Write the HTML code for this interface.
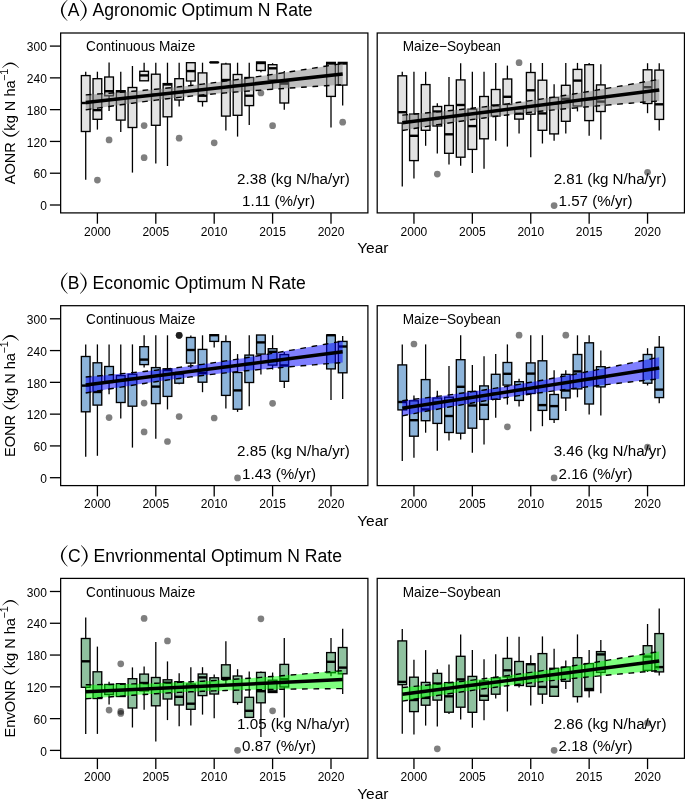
<!DOCTYPE html>
<html><head><meta charset="utf-8"><style>
html,body{margin:0;padding:0;background:#fff;}
svg{display:block;will-change:transform;}
text{font-family:"Liberation Sans", sans-serif;fill:#000;}
</style></head><body>
<svg width="685" height="799" viewBox="0 0 685 799">
<rect width="685" height="799" fill="#fff"/>
<path d="M67.3,-0.2 Q54.5,10.45 67.3,21.1 L67.65,20.9 Q57.55,10.45 67.65,0 Z" fill="#000"/>
<path d="M80.3,-0.2 Q93.1,10.45 80.3,21.1 L79.95,20.9 Q90.05,10.45 79.95,0 Z" fill="#000"/>
<text x="73.7" y="16" font-size="17.5" text-anchor="middle">A</text>
<text x="92.6" y="16" font-size="17.6">Agronomic Optimum N Rate</text>
<g transform="translate(15.4,184.32) rotate(-90)">
<text x="0" y="0" font-size="14.6">AONR</text>
<path d="M53.44,-13.4 Q41.64,-4.65 53.44,4.1 L53.79,3.9 Q44.39,-4.65 53.79,-13.2 Z" fill="#000"/>
<text x="53.69" y="0" font-size="14.6">kg N ha</text>
<text x="103.44" y="-7.4" font-size="10.7">−1</text>
<path d="M116.74,-13.1 Q127.14,-4.85 116.74,3.4 L116.39,3.2 Q124.39,-4.85 116.39,-12.9 Z" fill="#000"/>
</g>
<line x1="49.9" y1="205" x2="60.65" y2="205" stroke="#000" stroke-width="1.3"/>
<text x="46.9" y="210.2" font-size="12" text-anchor="end">0</text>
<line x1="49.9" y1="173.22" x2="60.65" y2="173.22" stroke="#000" stroke-width="1.3"/>
<text x="46.9" y="178.42" font-size="12" text-anchor="end">60</text>
<line x1="49.9" y1="141.44" x2="60.65" y2="141.44" stroke="#000" stroke-width="1.3"/>
<text x="46.9" y="146.64" font-size="12" text-anchor="end">120</text>
<line x1="49.9" y1="109.65" x2="60.65" y2="109.65" stroke="#000" stroke-width="1.3"/>
<text x="46.9" y="114.85" font-size="12" text-anchor="end">180</text>
<line x1="49.9" y1="77.87" x2="60.65" y2="77.87" stroke="#000" stroke-width="1.3"/>
<text x="46.9" y="83.07" font-size="12" text-anchor="end">240</text>
<line x1="49.9" y1="46.09" x2="60.65" y2="46.09" stroke="#000" stroke-width="1.3"/>
<text x="46.9" y="51.29" font-size="12" text-anchor="end">300</text>
<text x="372.8" y="253.4" font-size="15.5" text-anchor="middle">Year</text>
<line x1="97.4" y1="212.9" x2="97.4" y2="223.7" stroke="#000" stroke-width="1.3"/>
<text x="97.4" y="235.5" font-size="12" text-anchor="middle">2000</text>
<line x1="155.8" y1="212.9" x2="155.8" y2="223.7" stroke="#000" stroke-width="1.3"/>
<text x="155.8" y="235.5" font-size="12" text-anchor="middle">2005</text>
<line x1="214.2" y1="212.9" x2="214.2" y2="223.7" stroke="#000" stroke-width="1.3"/>
<text x="214.2" y="235.5" font-size="12" text-anchor="middle">2010</text>
<line x1="272.6" y1="212.9" x2="272.6" y2="223.7" stroke="#000" stroke-width="1.3"/>
<text x="272.6" y="235.5" font-size="12" text-anchor="middle">2015</text>
<line x1="331" y1="212.9" x2="331" y2="223.7" stroke="#000" stroke-width="1.3"/>
<text x="331" y="235.5" font-size="12" text-anchor="middle">2020</text>
<text transform="translate(86.1,51.2) scale(1,1.025)" font-size="13.65">Continuous Maize</text>
<line x1="85.72" y1="71.7" x2="85.72" y2="75.6" stroke="#000" stroke-width="1.3"/>
<line x1="85.72" y1="131.5" x2="85.72" y2="179.7" stroke="#000" stroke-width="1.3"/>
<rect x="81.37" y="75.6" width="8.7" height="55.9" fill="#e3e3e3" stroke="#000" stroke-width="1.35"/>
<line x1="81.37" y1="103" x2="90.07" y2="103" stroke="#000" stroke-width="2.4"/>
<line x1="97.4" y1="71.7" x2="97.4" y2="78.7" stroke="#000" stroke-width="1.3"/>
<line x1="97.4" y1="119.3" x2="97.4" y2="129.6" stroke="#000" stroke-width="1.3"/>
<rect x="93.05" y="78.7" width="8.7" height="40.6" fill="#e3e3e3" stroke="#000" stroke-width="1.35"/>
<line x1="93.05" y1="110.1" x2="101.75" y2="110.1" stroke="#000" stroke-width="2.4"/>
<circle cx="97.4" cy="180.1" r="3.35" fill="#000" fill-opacity="0.5"/>
<line x1="109.08" y1="62.6" x2="109.08" y2="77" stroke="#000" stroke-width="1.3"/>
<line x1="109.08" y1="95.8" x2="109.08" y2="111" stroke="#000" stroke-width="1.3"/>
<rect x="104.73" y="77" width="8.7" height="18.8" fill="#e3e3e3" stroke="#000" stroke-width="1.35"/>
<line x1="104.73" y1="91.2" x2="113.43" y2="91.2" stroke="#000" stroke-width="2.4"/>
<circle cx="109.08" cy="139.9" r="3.35" fill="#000" fill-opacity="0.5"/>
<line x1="120.76" y1="71.8" x2="120.76" y2="90.7" stroke="#000" stroke-width="1.3"/>
<line x1="120.76" y1="120.1" x2="120.76" y2="132.1" stroke="#000" stroke-width="1.3"/>
<rect x="116.41" y="90.7" width="8.7" height="29.4" fill="#e3e3e3" stroke="#000" stroke-width="1.35"/>
<line x1="116.41" y1="91.5" x2="125.11" y2="91.5" stroke="#000" stroke-width="2.4"/>
<line x1="132.44" y1="66" x2="132.44" y2="87.5" stroke="#000" stroke-width="1.3"/>
<line x1="132.44" y1="127.5" x2="132.44" y2="172.6" stroke="#000" stroke-width="1.3"/>
<rect x="128.09" y="87.5" width="8.7" height="40" fill="#e3e3e3" stroke="#000" stroke-width="1.35"/>
<line x1="128.09" y1="97.25" x2="136.79" y2="97.25" stroke="#000" stroke-width="2.4"/>
<line x1="144.12" y1="62.7" x2="144.12" y2="71.3" stroke="#000" stroke-width="1.3"/>
<rect x="139.77" y="71.3" width="8.7" height="9.5" fill="#e3e3e3" stroke="#000" stroke-width="1.35"/>
<line x1="139.77" y1="75.4" x2="148.47" y2="75.4" stroke="#000" stroke-width="2.4"/>
<circle cx="144.12" cy="125.6" r="3.35" fill="#000" fill-opacity="0.5"/>
<circle cx="144.12" cy="157.7" r="3.35" fill="#000" fill-opacity="0.5"/>
<line x1="155.8" y1="62.7" x2="155.8" y2="74.2" stroke="#000" stroke-width="1.3"/>
<line x1="155.8" y1="125.3" x2="155.8" y2="163.4" stroke="#000" stroke-width="1.3"/>
<rect x="151.45" y="74.2" width="8.7" height="51.1" fill="#e3e3e3" stroke="#000" stroke-width="1.35"/>
<line x1="151.45" y1="94.68" x2="160.15" y2="94.68" stroke="#000" stroke-width="2.4"/>
<line x1="167.48" y1="62.7" x2="167.48" y2="83.6" stroke="#000" stroke-width="1.3"/>
<line x1="167.48" y1="116.8" x2="167.48" y2="166" stroke="#000" stroke-width="1.3"/>
<rect x="163.13" y="83.6" width="8.7" height="33.2" fill="#e3e3e3" stroke="#000" stroke-width="1.35"/>
<line x1="163.13" y1="84.5" x2="171.83" y2="84.5" stroke="#000" stroke-width="2.4"/>
<line x1="179.16" y1="62.7" x2="179.16" y2="78.7" stroke="#000" stroke-width="1.3"/>
<line x1="179.16" y1="100" x2="179.16" y2="106.6" stroke="#000" stroke-width="1.3"/>
<rect x="174.81" y="78.7" width="8.7" height="21.3" fill="#e3e3e3" stroke="#000" stroke-width="1.35"/>
<line x1="174.81" y1="92.11" x2="183.51" y2="92.11" stroke="#000" stroke-width="2.4"/>
<circle cx="179.16" cy="138.2" r="3.35" fill="#000" fill-opacity="0.5"/>
<line x1="190.84" y1="81" x2="190.84" y2="85.7" stroke="#000" stroke-width="1.3"/>
<rect x="186.49" y="62.7" width="8.7" height="18.3" fill="#e3e3e3" stroke="#000" stroke-width="1.35"/>
<line x1="186.49" y1="71.1" x2="195.19" y2="71.1" stroke="#000" stroke-width="2.4"/>
<line x1="202.52" y1="62.7" x2="202.52" y2="72.9" stroke="#000" stroke-width="1.3"/>
<line x1="202.52" y1="101.5" x2="202.52" y2="106.6" stroke="#000" stroke-width="1.3"/>
<rect x="198.17" y="72.9" width="8.7" height="28.6" fill="#e3e3e3" stroke="#000" stroke-width="1.35"/>
<line x1="198.17" y1="95.7" x2="206.87" y2="95.7" stroke="#000" stroke-width="2.4"/>
<rect x="209.85" y="62.4" width="8.7" height="0.01" fill="#e3e3e3" stroke="#000" stroke-width="1.35"/>
<line x1="209.85" y1="62.4" x2="218.55" y2="62.4" stroke="#000" stroke-width="2.4"/>
<circle cx="214.2" cy="142.8" r="3.35" fill="#000" fill-opacity="0.5"/>
<line x1="225.88" y1="62.7" x2="225.88" y2="64" stroke="#000" stroke-width="1.3"/>
<line x1="225.88" y1="116.1" x2="225.88" y2="130.6" stroke="#000" stroke-width="1.3"/>
<rect x="221.53" y="64" width="8.7" height="52.1" fill="#e3e3e3" stroke="#000" stroke-width="1.35"/>
<line x1="221.53" y1="80" x2="230.23" y2="80" stroke="#000" stroke-width="2.4"/>
<line x1="237.56" y1="62.7" x2="237.56" y2="74.5" stroke="#000" stroke-width="1.3"/>
<line x1="237.56" y1="115.3" x2="237.56" y2="136.6" stroke="#000" stroke-width="1.3"/>
<rect x="233.21" y="74.5" width="8.7" height="40.8" fill="#e3e3e3" stroke="#000" stroke-width="1.35"/>
<line x1="233.21" y1="85.68" x2="241.91" y2="85.68" stroke="#000" stroke-width="2.4"/>
<line x1="249.24" y1="62.7" x2="249.24" y2="77.5" stroke="#000" stroke-width="1.3"/>
<line x1="249.24" y1="105.6" x2="249.24" y2="125" stroke="#000" stroke-width="1.3"/>
<rect x="244.89" y="77.5" width="8.7" height="28.1" fill="#e3e3e3" stroke="#000" stroke-width="1.35"/>
<line x1="244.89" y1="95.7" x2="253.59" y2="95.7" stroke="#000" stroke-width="2.4"/>
<line x1="260.92" y1="70.5" x2="260.92" y2="72.2" stroke="#000" stroke-width="1.3"/>
<rect x="256.57" y="62" width="8.7" height="8.5" fill="#e3e3e3" stroke="#000" stroke-width="1.35"/>
<line x1="256.57" y1="63" x2="265.27" y2="63" stroke="#000" stroke-width="2.4"/>
<circle cx="260.92" cy="93" r="3.35" fill="#000" fill-opacity="0.5"/>
<line x1="272.6" y1="63.2" x2="272.6" y2="64.7" stroke="#000" stroke-width="1.3"/>
<line x1="272.6" y1="80" x2="272.6" y2="89.6" stroke="#000" stroke-width="1.3"/>
<rect x="268.25" y="64.7" width="8.7" height="15.3" fill="#e3e3e3" stroke="#000" stroke-width="1.35"/>
<line x1="268.25" y1="68.3" x2="276.95" y2="68.3" stroke="#000" stroke-width="2.4"/>
<circle cx="272.6" cy="125.7" r="3.35" fill="#000" fill-opacity="0.5"/>
<line x1="284.28" y1="71.1" x2="284.28" y2="82.6" stroke="#000" stroke-width="1.3"/>
<line x1="284.28" y1="103" x2="284.28" y2="109.7" stroke="#000" stroke-width="1.3"/>
<rect x="279.93" y="82.6" width="8.7" height="20.4" fill="#e3e3e3" stroke="#000" stroke-width="1.35"/>
<line x1="279.93" y1="83.6" x2="288.63" y2="83.6" stroke="#000" stroke-width="2.4"/>
<line x1="331" y1="96.4" x2="331" y2="127.6" stroke="#000" stroke-width="1.3"/>
<rect x="326.65" y="62.4" width="8.7" height="34" fill="#e3e3e3" stroke="#000" stroke-width="1.35"/>
<line x1="326.65" y1="63.5" x2="335.35" y2="63.5" stroke="#000" stroke-width="2.4"/>
<line x1="342.68" y1="85.1" x2="342.68" y2="105.6" stroke="#000" stroke-width="1.3"/>
<rect x="338.33" y="62.4" width="8.7" height="22.7" fill="#e3e3e3" stroke="#000" stroke-width="1.35"/>
<line x1="338.33" y1="63.5" x2="347.03" y2="63.5" stroke="#000" stroke-width="2.4"/>
<circle cx="342.68" cy="122.2" r="3.35" fill="#000" fill-opacity="0.5"/>
<polygon points="85.72,94.9 91.56,94.49 97.4,94.06 103.24,93.63 109.08,93.19 114.92,92.74 120.76,92.28 126.6,91.81 132.44,91.32 138.28,90.82 144.12,90.3 149.96,89.76 155.8,89.21 161.64,88.64 167.48,88.05 173.32,87.44 179.16,86.81 185,86.16 190.84,85.49 196.68,84.8 202.52,84.08 208.36,83.35 214.2,82.61 220.04,81.84 225.88,81.06 231.72,80.27 237.56,79.46 243.4,78.64 249.24,77.8 255.08,76.96 260.92,76.11 266.76,75.24 272.6,74.37 278.44,73.49 284.28,72.61 290.12,71.72 295.96,70.82 301.8,69.92 307.64,69.02 313.48,68.1 319.32,67.19 325.16,66.27 331,65.35 336.84,64.43 342.68,63.5 342.68,84.7 336.84,85.06 331,85.42 325.16,85.79 319.32,86.16 313.48,86.53 307.64,86.9 301.8,87.28 295.96,87.67 290.12,88.06 284.28,88.45 278.44,88.86 272.6,89.26 266.76,89.68 260.92,90.1 255.08,90.54 249.24,90.98 243.4,91.43 237.56,91.9 231.72,92.37 225.88,92.86 220.04,93.37 214.2,93.89 208.36,94.43 202.52,94.99 196.68,95.56 190.84,96.16 185,96.77 179.16,97.41 173.32,98.07 167.48,98.74 161.64,99.44 155.8,100.15 149.96,100.89 144.12,101.64 138.28,102.41 132.44,103.19 126.6,103.99 120.76,104.8 114.92,105.63 109.08,106.46 103.24,107.31 97.4,108.16 91.56,109.03 85.72,109.9" fill="rgba(128,128,128,0.5)"/>
<polyline points="85.72,94.9 91.56,94.49 97.4,94.06 103.24,93.63 109.08,93.19 114.92,92.74 120.76,92.28 126.6,91.81 132.44,91.32 138.28,90.82 144.12,90.3 149.96,89.76 155.8,89.21 161.64,88.64 167.48,88.05 173.32,87.44 179.16,86.81 185,86.16 190.84,85.49 196.68,84.8 202.52,84.08 208.36,83.35 214.2,82.61 220.04,81.84 225.88,81.06 231.72,80.27 237.56,79.46 243.4,78.64 249.24,77.8 255.08,76.96 260.92,76.11 266.76,75.24 272.6,74.37 278.44,73.49 284.28,72.61 290.12,71.72 295.96,70.82 301.8,69.92 307.64,69.02 313.48,68.1 319.32,67.19 325.16,66.27 331,65.35 336.84,64.43 342.68,63.5" fill="none" stroke="#000" stroke-width="1.4" stroke-dasharray="5.7 5.7"/>
<polyline points="85.72,109.9 91.56,109.03 97.4,108.16 103.24,107.31 109.08,106.46 114.92,105.63 120.76,104.8 126.6,103.99 132.44,103.19 138.28,102.41 144.12,101.64 149.96,100.89 155.8,100.15 161.64,99.44 167.48,98.74 173.32,98.07 179.16,97.41 185,96.77 190.84,96.16 196.68,95.56 202.52,94.99 208.36,94.43 214.2,93.89 220.04,93.37 225.88,92.86 231.72,92.37 237.56,91.9 243.4,91.43 249.24,90.98 255.08,90.54 260.92,90.1 266.76,89.68 272.6,89.26 278.44,88.86 284.28,88.45 290.12,88.06 295.96,87.67 301.8,87.28 307.64,86.9 313.48,86.53 319.32,86.16 325.16,85.79 331,85.42 336.84,85.06 342.68,84.7" fill="none" stroke="#000" stroke-width="1.4" stroke-dasharray="5.7 5.7"/>
<line x1="85.72" y1="102.4" x2="342.68" y2="74.1" stroke="#000" stroke-width="3.5"/>
<rect x="60.65" y="33" width="307.25" height="179.9" fill="none" stroke="#000" stroke-width="1.25"/>
<text transform="translate(237.1,183.7) scale(1,1.02)" font-size="15.15">2.38 (kg N/ha/yr)</text>
<text transform="translate(242,205.9) scale(1,1.02)" font-size="15.15">1.11 (%/yr)</text>
<line x1="413.95" y1="212.9" x2="413.95" y2="223.7" stroke="#000" stroke-width="1.3"/>
<text x="413.95" y="235.5" font-size="12" text-anchor="middle">2000</text>
<line x1="472.35" y1="212.9" x2="472.35" y2="223.7" stroke="#000" stroke-width="1.3"/>
<text x="472.35" y="235.5" font-size="12" text-anchor="middle">2005</text>
<line x1="530.75" y1="212.9" x2="530.75" y2="223.7" stroke="#000" stroke-width="1.3"/>
<text x="530.75" y="235.5" font-size="12" text-anchor="middle">2010</text>
<line x1="589.15" y1="212.9" x2="589.15" y2="223.7" stroke="#000" stroke-width="1.3"/>
<text x="589.15" y="235.5" font-size="12" text-anchor="middle">2015</text>
<line x1="647.55" y1="212.9" x2="647.55" y2="223.7" stroke="#000" stroke-width="1.3"/>
<text x="647.55" y="235.5" font-size="12" text-anchor="middle">2020</text>
<text transform="translate(402.65,51.2) scale(1,1.025)" font-size="13.65">Maize−Soybean</text>
<line x1="402.27" y1="71.8" x2="402.27" y2="75.8" stroke="#000" stroke-width="1.3"/>
<line x1="402.27" y1="123.1" x2="402.27" y2="186.4" stroke="#000" stroke-width="1.3"/>
<rect x="397.92" y="75.8" width="8.7" height="47.3" fill="#e3e3e3" stroke="#000" stroke-width="1.35"/>
<line x1="397.92" y1="112.2" x2="406.62" y2="112.2" stroke="#000" stroke-width="2.4"/>
<line x1="413.95" y1="71.8" x2="413.95" y2="114.1" stroke="#000" stroke-width="1.3"/>
<line x1="413.95" y1="160.6" x2="413.95" y2="178.6" stroke="#000" stroke-width="1.3"/>
<rect x="409.6" y="114.1" width="8.7" height="46.5" fill="#e3e3e3" stroke="#000" stroke-width="1.35"/>
<line x1="409.6" y1="135.8" x2="418.3" y2="135.8" stroke="#000" stroke-width="2.4"/>
<line x1="425.63" y1="71.8" x2="425.63" y2="84.6" stroke="#000" stroke-width="1.3"/>
<line x1="425.63" y1="130.3" x2="425.63" y2="145.8" stroke="#000" stroke-width="1.3"/>
<rect x="421.28" y="84.6" width="8.7" height="45.7" fill="#e3e3e3" stroke="#000" stroke-width="1.35"/>
<line x1="421.28" y1="119.83" x2="429.98" y2="119.83" stroke="#000" stroke-width="2.4"/>
<line x1="437.31" y1="103.2" x2="437.31" y2="106.5" stroke="#000" stroke-width="1.3"/>
<line x1="437.31" y1="126" x2="437.31" y2="153.4" stroke="#000" stroke-width="1.3"/>
<rect x="432.96" y="106.5" width="8.7" height="19.5" fill="#e3e3e3" stroke="#000" stroke-width="1.35"/>
<line x1="432.96" y1="111.5" x2="441.66" y2="111.5" stroke="#000" stroke-width="2.4"/>
<circle cx="437.31" cy="174.1" r="3.35" fill="#000" fill-opacity="0.5"/>
<line x1="448.99" y1="77.1" x2="448.99" y2="105.5" stroke="#000" stroke-width="1.3"/>
<line x1="448.99" y1="153.3" x2="448.99" y2="164.5" stroke="#000" stroke-width="1.3"/>
<rect x="444.64" y="105.5" width="8.7" height="47.8" fill="#e3e3e3" stroke="#000" stroke-width="1.35"/>
<line x1="444.64" y1="134.3" x2="453.34" y2="134.3" stroke="#000" stroke-width="2.4"/>
<line x1="460.67" y1="63.2" x2="460.67" y2="79.9" stroke="#000" stroke-width="1.3"/>
<line x1="460.67" y1="157.2" x2="460.67" y2="165.8" stroke="#000" stroke-width="1.3"/>
<rect x="456.32" y="79.9" width="8.7" height="77.3" fill="#e3e3e3" stroke="#000" stroke-width="1.35"/>
<line x1="456.32" y1="105" x2="465.02" y2="105" stroke="#000" stroke-width="2.4"/>
<line x1="472.35" y1="71.8" x2="472.35" y2="109.2" stroke="#000" stroke-width="1.3"/>
<line x1="472.35" y1="149.4" x2="472.35" y2="172.9" stroke="#000" stroke-width="1.3"/>
<rect x="468" y="109.2" width="8.7" height="40.2" fill="#e3e3e3" stroke="#000" stroke-width="1.35"/>
<line x1="468" y1="126.1" x2="476.7" y2="126.1" stroke="#000" stroke-width="2.4"/>
<line x1="484.03" y1="71.8" x2="484.03" y2="96.5" stroke="#000" stroke-width="1.3"/>
<line x1="484.03" y1="138.8" x2="484.03" y2="168.8" stroke="#000" stroke-width="1.3"/>
<rect x="479.68" y="96.5" width="8.7" height="42.3" fill="#e3e3e3" stroke="#000" stroke-width="1.35"/>
<line x1="479.68" y1="112.4" x2="488.38" y2="112.4" stroke="#000" stroke-width="2.4"/>
<line x1="495.71" y1="63.1" x2="495.71" y2="89.5" stroke="#000" stroke-width="1.3"/>
<line x1="495.71" y1="116" x2="495.71" y2="140.8" stroke="#000" stroke-width="1.3"/>
<rect x="491.36" y="89.5" width="8.7" height="26.5" fill="#e3e3e3" stroke="#000" stroke-width="1.35"/>
<line x1="491.36" y1="105.5" x2="500.06" y2="105.5" stroke="#000" stroke-width="2.4"/>
<line x1="507.39" y1="65.6" x2="507.39" y2="79" stroke="#000" stroke-width="1.3"/>
<line x1="507.39" y1="104.5" x2="507.39" y2="146.6" stroke="#000" stroke-width="1.3"/>
<rect x="503.04" y="79" width="8.7" height="25.5" fill="#e3e3e3" stroke="#000" stroke-width="1.35"/>
<line x1="503.04" y1="96.8" x2="511.74" y2="96.8" stroke="#000" stroke-width="2.4"/>
<line x1="519.07" y1="119.1" x2="519.07" y2="133.6" stroke="#000" stroke-width="1.3"/>
<rect x="514.72" y="109" width="8.7" height="10.1" fill="#e3e3e3" stroke="#000" stroke-width="1.35"/>
<line x1="514.72" y1="113.6" x2="523.42" y2="113.6" stroke="#000" stroke-width="2.4"/>
<circle cx="519.07" cy="62.7" r="3.35" fill="#000" fill-opacity="0.5"/>
<line x1="530.75" y1="63" x2="530.75" y2="72.5" stroke="#000" stroke-width="1.3"/>
<line x1="530.75" y1="114.2" x2="530.75" y2="157.2" stroke="#000" stroke-width="1.3"/>
<rect x="526.4" y="72.5" width="8.7" height="41.7" fill="#e3e3e3" stroke="#000" stroke-width="1.35"/>
<line x1="526.4" y1="90.3" x2="535.1" y2="90.3" stroke="#000" stroke-width="2.4"/>
<line x1="542.43" y1="63" x2="542.43" y2="80.2" stroke="#000" stroke-width="1.3"/>
<line x1="542.43" y1="130.3" x2="542.43" y2="143.5" stroke="#000" stroke-width="1.3"/>
<rect x="538.08" y="80.2" width="8.7" height="50.1" fill="#e3e3e3" stroke="#000" stroke-width="1.35"/>
<line x1="538.08" y1="113.4" x2="546.78" y2="113.4" stroke="#000" stroke-width="2.4"/>
<line x1="554.11" y1="84.3" x2="554.11" y2="97.5" stroke="#000" stroke-width="1.3"/>
<line x1="554.11" y1="133.9" x2="554.11" y2="140.8" stroke="#000" stroke-width="1.3"/>
<rect x="549.76" y="97.5" width="8.7" height="36.4" fill="#e3e3e3" stroke="#000" stroke-width="1.35"/>
<line x1="549.76" y1="103.48" x2="558.46" y2="103.48" stroke="#000" stroke-width="2.4"/>
<circle cx="554.11" cy="205.6" r="3.35" fill="#000" fill-opacity="0.5"/>
<line x1="565.79" y1="62.9" x2="565.79" y2="85.3" stroke="#000" stroke-width="1.3"/>
<line x1="565.79" y1="121.3" x2="565.79" y2="133.6" stroke="#000" stroke-width="1.3"/>
<rect x="561.44" y="85.3" width="8.7" height="36" fill="#e3e3e3" stroke="#000" stroke-width="1.35"/>
<line x1="561.44" y1="98.9" x2="570.14" y2="98.9" stroke="#000" stroke-width="2.4"/>
<line x1="577.47" y1="62.9" x2="577.47" y2="69.4" stroke="#000" stroke-width="1.3"/>
<line x1="577.47" y1="106" x2="577.47" y2="111.4" stroke="#000" stroke-width="1.3"/>
<rect x="573.12" y="69.4" width="8.7" height="36.6" fill="#e3e3e3" stroke="#000" stroke-width="1.35"/>
<line x1="573.12" y1="80.6" x2="581.82" y2="80.6" stroke="#000" stroke-width="2.4"/>
<line x1="589.15" y1="62.9" x2="589.15" y2="64.7" stroke="#000" stroke-width="1.3"/>
<line x1="589.15" y1="120.6" x2="589.15" y2="135.7" stroke="#000" stroke-width="1.3"/>
<rect x="584.8" y="64.7" width="8.7" height="55.9" fill="#e3e3e3" stroke="#000" stroke-width="1.35"/>
<line x1="584.8" y1="99.02" x2="593.5" y2="99.02" stroke="#000" stroke-width="2.4"/>
<line x1="600.83" y1="64.3" x2="600.83" y2="84.9" stroke="#000" stroke-width="1.3"/>
<line x1="600.83" y1="111.5" x2="600.83" y2="139.4" stroke="#000" stroke-width="1.3"/>
<rect x="596.48" y="84.9" width="8.7" height="26.6" fill="#e3e3e3" stroke="#000" stroke-width="1.35"/>
<line x1="596.48" y1="101.6" x2="605.18" y2="101.6" stroke="#000" stroke-width="2.4"/>
<line x1="647.55" y1="63.2" x2="647.55" y2="69.8" stroke="#000" stroke-width="1.3"/>
<line x1="647.55" y1="103.5" x2="647.55" y2="113.2" stroke="#000" stroke-width="1.3"/>
<rect x="643.2" y="69.8" width="8.7" height="33.7" fill="#e3e3e3" stroke="#000" stroke-width="1.35"/>
<line x1="643.2" y1="87.2" x2="651.9" y2="87.2" stroke="#000" stroke-width="2.4"/>
<circle cx="647.55" cy="172.3" r="3.35" fill="#000" fill-opacity="0.5"/>
<line x1="659.23" y1="63.2" x2="659.23" y2="70.1" stroke="#000" stroke-width="1.3"/>
<line x1="659.23" y1="119.4" x2="659.23" y2="130.6" stroke="#000" stroke-width="1.3"/>
<rect x="654.88" y="70.1" width="8.7" height="49.3" fill="#e3e3e3" stroke="#000" stroke-width="1.35"/>
<line x1="654.88" y1="104.3" x2="663.58" y2="104.3" stroke="#000" stroke-width="2.4"/>
<polygon points="402.27,115.1 408.11,114.59 413.95,114.07 419.79,113.53 425.63,112.99 431.47,112.44 437.31,111.88 443.15,111.31 448.99,110.72 454.83,110.12 460.67,109.5 466.51,108.86 472.35,108.21 478.19,107.54 484.03,106.85 489.87,106.14 495.71,105.41 501.55,104.66 507.39,103.89 513.23,103.1 519.07,102.29 524.91,101.46 530.75,100.61 536.59,99.75 542.43,98.87 548.27,97.98 554.11,97.07 559.95,96.15 565.79,95.22 571.63,94.27 577.47,93.32 583.31,92.36 589.15,91.39 594.99,90.41 600.83,89.42 606.67,88.43 612.51,87.44 618.35,86.43 624.19,85.43 630.03,84.41 635.87,83.4 641.71,82.38 647.55,81.36 653.39,80.33 659.23,79.3 659.23,100.9 653.39,101.36 647.55,101.82 641.71,102.28 635.87,102.75 630.03,103.22 624.19,103.69 618.35,104.17 612.51,104.66 606.67,105.15 600.83,105.64 594.99,106.14 589.15,106.65 583.31,107.17 577.47,107.69 571.63,108.22 565.79,108.77 559.95,109.32 554.11,109.89 548.27,110.46 542.43,111.06 536.59,111.66 530.75,112.29 524.91,112.93 519.07,113.58 513.23,114.26 507.39,114.96 501.55,115.67 495.71,116.41 489.87,117.17 484.03,117.94 478.19,118.74 472.35,119.55 466.51,120.39 460.67,121.24 454.83,122.11 448.99,122.99 443.15,123.89 437.31,124.8 431.47,125.72 425.63,126.66 419.79,127.61 413.95,128.56 408.11,129.53 402.27,130.5" fill="rgba(128,128,128,0.5)"/>
<polyline points="402.27,115.1 408.11,114.59 413.95,114.07 419.79,113.53 425.63,112.99 431.47,112.44 437.31,111.88 443.15,111.31 448.99,110.72 454.83,110.12 460.67,109.5 466.51,108.86 472.35,108.21 478.19,107.54 484.03,106.85 489.87,106.14 495.71,105.41 501.55,104.66 507.39,103.89 513.23,103.1 519.07,102.29 524.91,101.46 530.75,100.61 536.59,99.75 542.43,98.87 548.27,97.98 554.11,97.07 559.95,96.15 565.79,95.22 571.63,94.27 577.47,93.32 583.31,92.36 589.15,91.39 594.99,90.41 600.83,89.42 606.67,88.43 612.51,87.44 618.35,86.43 624.19,85.43 630.03,84.41 635.87,83.4 641.71,82.38 647.55,81.36 653.39,80.33 659.23,79.3" fill="none" stroke="#000" stroke-width="1.4" stroke-dasharray="5.7 5.7"/>
<polyline points="402.27,130.5 408.11,129.53 413.95,128.56 419.79,127.61 425.63,126.66 431.47,125.72 437.31,124.8 443.15,123.89 448.99,122.99 454.83,122.11 460.67,121.24 466.51,120.39 472.35,119.55 478.19,118.74 484.03,117.94 489.87,117.17 495.71,116.41 501.55,115.67 507.39,114.96 513.23,114.26 519.07,113.58 524.91,112.93 530.75,112.29 536.59,111.66 542.43,111.06 548.27,110.46 554.11,109.89 559.95,109.32 565.79,108.77 571.63,108.22 577.47,107.69 583.31,107.17 589.15,106.65 594.99,106.14 600.83,105.64 606.67,105.15 612.51,104.66 618.35,104.17 624.19,103.69 630.03,103.22 635.87,102.75 641.71,102.28 647.55,101.82 653.39,101.36 659.23,100.9" fill="none" stroke="#000" stroke-width="1.4" stroke-dasharray="5.7 5.7"/>
<line x1="402.27" y1="122.8" x2="659.23" y2="90.1" stroke="#000" stroke-width="3.5"/>
<rect x="377.2" y="33" width="307.25" height="179.9" fill="none" stroke="#000" stroke-width="1.25"/>
<text transform="translate(553.65,183.7) scale(1,1.02)" font-size="15.15">2.81 (kg N/ha/yr)</text>
<text transform="translate(558.55,205.9) scale(1,1.02)" font-size="15.15">1.57 (%/yr)</text>
<path d="M67.3,272.5 Q54.5,283.15 67.3,293.8 L67.65,293.6 Q57.55,283.15 67.65,272.7 Z" fill="#000"/>
<path d="M80.3,272.5 Q93.1,283.15 80.3,293.8 L79.95,293.6 Q90.05,283.15 79.95,272.7 Z" fill="#000"/>
<text x="73.7" y="288.7" font-size="17.5" text-anchor="middle">B</text>
<text x="92.6" y="288.7" font-size="17.6">Economic Optimum N Rate</text>
<g transform="translate(15.4,457.02) rotate(-90)">
<text x="0" y="0" font-size="14.6">EONR</text>
<path d="M53.44,-13.4 Q41.64,-4.65 53.44,4.1 L53.79,3.9 Q44.39,-4.65 53.79,-13.2 Z" fill="#000"/>
<text x="53.69" y="0" font-size="14.6">kg N ha</text>
<text x="103.44" y="-7.4" font-size="10.7">−1</text>
<path d="M116.74,-13.1 Q127.14,-4.85 116.74,3.4 L116.39,3.2 Q124.39,-4.85 116.39,-12.9 Z" fill="#000"/>
</g>
<line x1="49.9" y1="477.7" x2="60.65" y2="477.7" stroke="#000" stroke-width="1.3"/>
<text x="46.9" y="482.9" font-size="12" text-anchor="end">0</text>
<line x1="49.9" y1="445.92" x2="60.65" y2="445.92" stroke="#000" stroke-width="1.3"/>
<text x="46.9" y="451.12" font-size="12" text-anchor="end">60</text>
<line x1="49.9" y1="414.14" x2="60.65" y2="414.14" stroke="#000" stroke-width="1.3"/>
<text x="46.9" y="419.34" font-size="12" text-anchor="end">120</text>
<line x1="49.9" y1="382.35" x2="60.65" y2="382.35" stroke="#000" stroke-width="1.3"/>
<text x="46.9" y="387.55" font-size="12" text-anchor="end">180</text>
<line x1="49.9" y1="350.57" x2="60.65" y2="350.57" stroke="#000" stroke-width="1.3"/>
<text x="46.9" y="355.77" font-size="12" text-anchor="end">240</text>
<line x1="49.9" y1="318.79" x2="60.65" y2="318.79" stroke="#000" stroke-width="1.3"/>
<text x="46.9" y="323.99" font-size="12" text-anchor="end">300</text>
<text x="372.8" y="526.1" font-size="15.5" text-anchor="middle">Year</text>
<line x1="97.4" y1="485.6" x2="97.4" y2="496.4" stroke="#000" stroke-width="1.3"/>
<text x="97.4" y="508.2" font-size="12" text-anchor="middle">2000</text>
<line x1="155.8" y1="485.6" x2="155.8" y2="496.4" stroke="#000" stroke-width="1.3"/>
<text x="155.8" y="508.2" font-size="12" text-anchor="middle">2005</text>
<line x1="214.2" y1="485.6" x2="214.2" y2="496.4" stroke="#000" stroke-width="1.3"/>
<text x="214.2" y="508.2" font-size="12" text-anchor="middle">2010</text>
<line x1="272.6" y1="485.6" x2="272.6" y2="496.4" stroke="#000" stroke-width="1.3"/>
<text x="272.6" y="508.2" font-size="12" text-anchor="middle">2015</text>
<line x1="331" y1="485.6" x2="331" y2="496.4" stroke="#000" stroke-width="1.3"/>
<text x="331" y="508.2" font-size="12" text-anchor="middle">2020</text>
<text transform="translate(86.1,323.9) scale(1,1.025)" font-size="13.65">Continuous Maize</text>
<line x1="85.72" y1="344.4" x2="85.72" y2="356.5" stroke="#000" stroke-width="1.3"/>
<line x1="85.72" y1="411.8" x2="85.72" y2="456.8" stroke="#000" stroke-width="1.3"/>
<rect x="81.37" y="356.5" width="8.7" height="55.3" fill="#8db4da" stroke="#000" stroke-width="1.35"/>
<line x1="81.37" y1="385.6" x2="90.07" y2="385.6" stroke="#000" stroke-width="2.4"/>
<line x1="97.4" y1="344.4" x2="97.4" y2="362.8" stroke="#000" stroke-width="1.3"/>
<line x1="97.4" y1="405.1" x2="97.4" y2="455.8" stroke="#000" stroke-width="1.3"/>
<rect x="93.05" y="362.8" width="8.7" height="42.3" fill="#8db4da" stroke="#000" stroke-width="1.35"/>
<line x1="93.05" y1="392" x2="101.75" y2="392" stroke="#000" stroke-width="2.4"/>
<line x1="109.08" y1="344.4" x2="109.08" y2="366.5" stroke="#000" stroke-width="1.3"/>
<line x1="109.08" y1="382.3" x2="109.08" y2="394.3" stroke="#000" stroke-width="1.3"/>
<rect x="104.73" y="366.5" width="8.7" height="15.8" fill="#8db4da" stroke="#000" stroke-width="1.35"/>
<line x1="104.73" y1="381.98" x2="113.43" y2="381.98" stroke="#000" stroke-width="2.4"/>
<circle cx="109.08" cy="417.6" r="3.35" fill="#000" fill-opacity="0.5"/>
<line x1="120.76" y1="344.4" x2="120.76" y2="375.6" stroke="#000" stroke-width="1.3"/>
<line x1="120.76" y1="402.5" x2="120.76" y2="418.6" stroke="#000" stroke-width="1.3"/>
<rect x="116.41" y="375.6" width="8.7" height="26.9" fill="#8db4da" stroke="#000" stroke-width="1.35"/>
<line x1="116.41" y1="380.47" x2="125.11" y2="380.47" stroke="#000" stroke-width="2.4"/>
<line x1="132.44" y1="344.4" x2="132.44" y2="374.2" stroke="#000" stroke-width="1.3"/>
<line x1="132.44" y1="406.2" x2="132.44" y2="447.6" stroke="#000" stroke-width="1.3"/>
<rect x="128.09" y="374.2" width="8.7" height="32" fill="#8db4da" stroke="#000" stroke-width="1.35"/>
<line x1="128.09" y1="378.96" x2="136.79" y2="378.96" stroke="#000" stroke-width="2.4"/>
<line x1="144.12" y1="335.3" x2="144.12" y2="346.7" stroke="#000" stroke-width="1.3"/>
<line x1="144.12" y1="364.6" x2="144.12" y2="367.4" stroke="#000" stroke-width="1.3"/>
<rect x="139.77" y="346.7" width="8.7" height="17.9" fill="#8db4da" stroke="#000" stroke-width="1.35"/>
<line x1="139.77" y1="359.6" x2="148.47" y2="359.6" stroke="#000" stroke-width="2.4"/>
<circle cx="144.12" cy="403.1" r="3.35" fill="#000" fill-opacity="0.5"/>
<circle cx="144.12" cy="431.9" r="3.35" fill="#000" fill-opacity="0.5"/>
<line x1="155.8" y1="335.3" x2="155.8" y2="367.6" stroke="#000" stroke-width="1.3"/>
<line x1="155.8" y1="403.6" x2="155.8" y2="438.8" stroke="#000" stroke-width="1.3"/>
<rect x="151.45" y="367.6" width="8.7" height="36" fill="#8db4da" stroke="#000" stroke-width="1.35"/>
<line x1="151.45" y1="386.6" x2="160.15" y2="386.6" stroke="#000" stroke-width="2.4"/>
<line x1="167.48" y1="335.3" x2="167.48" y2="368.8" stroke="#000" stroke-width="1.3"/>
<line x1="167.48" y1="396.4" x2="167.48" y2="409.4" stroke="#000" stroke-width="1.3"/>
<rect x="163.13" y="368.8" width="8.7" height="27.6" fill="#8db4da" stroke="#000" stroke-width="1.35"/>
<line x1="163.13" y1="370" x2="171.83" y2="370" stroke="#000" stroke-width="2.4"/>
<circle cx="167.48" cy="441.5" r="3.35" fill="#000" fill-opacity="0.5"/>
<line x1="179.16" y1="383.2" x2="179.16" y2="384.2" stroke="#000" stroke-width="1.3"/>
<rect x="174.81" y="374.5" width="8.7" height="8.7" fill="#8db4da" stroke="#000" stroke-width="1.35"/>
<line x1="174.81" y1="372.93" x2="183.51" y2="372.93" stroke="#000" stroke-width="2.4"/>
<circle cx="179.16" cy="416.6" r="3.35" fill="#000" fill-opacity="0.5"/>
<circle cx="179.16" cy="335.3" r="3.35" fill="#000" fill-opacity="0.5"/>
<circle cx="179.16" cy="335.3" r="3.35" fill="#000" fill-opacity="0.5"/>
<circle cx="179.16" cy="335.3" r="3.35" fill="#000" fill-opacity="0.5"/>
<line x1="190.84" y1="335.6" x2="190.84" y2="337.5" stroke="#000" stroke-width="1.3"/>
<line x1="190.84" y1="363.1" x2="190.84" y2="367.9" stroke="#000" stroke-width="1.3"/>
<rect x="186.49" y="337.5" width="8.7" height="25.6" fill="#8db4da" stroke="#000" stroke-width="1.35"/>
<line x1="186.49" y1="350" x2="195.19" y2="350" stroke="#000" stroke-width="2.4"/>
<line x1="202.52" y1="335.3" x2="202.52" y2="349.4" stroke="#000" stroke-width="1.3"/>
<line x1="202.52" y1="382.2" x2="202.52" y2="392.2" stroke="#000" stroke-width="1.3"/>
<rect x="198.17" y="349.4" width="8.7" height="32.8" fill="#8db4da" stroke="#000" stroke-width="1.35"/>
<line x1="198.17" y1="373" x2="206.87" y2="373" stroke="#000" stroke-width="2.4"/>
<line x1="214.2" y1="341.4" x2="214.2" y2="347.5" stroke="#000" stroke-width="1.3"/>
<rect x="209.85" y="334.7" width="8.7" height="6.7" fill="#8db4da" stroke="#000" stroke-width="1.35"/>
<line x1="209.85" y1="335.2" x2="218.55" y2="335.2" stroke="#000" stroke-width="2.4"/>
<circle cx="214.2" cy="418" r="3.35" fill="#000" fill-opacity="0.5"/>
<line x1="225.88" y1="335.2" x2="225.88" y2="341.6" stroke="#000" stroke-width="1.3"/>
<line x1="225.88" y1="395.4" x2="225.88" y2="408.4" stroke="#000" stroke-width="1.3"/>
<rect x="221.53" y="341.6" width="8.7" height="53.8" fill="#8db4da" stroke="#000" stroke-width="1.35"/>
<line x1="221.53" y1="366.89" x2="230.23" y2="366.89" stroke="#000" stroke-width="2.4"/>
<line x1="237.56" y1="354.1" x2="237.56" y2="372.5" stroke="#000" stroke-width="1.3"/>
<line x1="237.56" y1="409.2" x2="237.56" y2="411.9" stroke="#000" stroke-width="1.3"/>
<rect x="233.21" y="372.5" width="8.7" height="36.7" fill="#8db4da" stroke="#000" stroke-width="1.35"/>
<line x1="233.21" y1="390.4" x2="241.91" y2="390.4" stroke="#000" stroke-width="2.4"/>
<circle cx="237.56" cy="477.9" r="3.35" fill="#000" fill-opacity="0.5"/>
<line x1="249.24" y1="335.2" x2="249.24" y2="355.1" stroke="#000" stroke-width="1.3"/>
<line x1="249.24" y1="382.5" x2="249.24" y2="406.3" stroke="#000" stroke-width="1.3"/>
<rect x="244.89" y="355.1" width="8.7" height="27.4" fill="#8db4da" stroke="#000" stroke-width="1.35"/>
<line x1="244.89" y1="363.87" x2="253.59" y2="363.87" stroke="#000" stroke-width="2.4"/>
<line x1="260.92" y1="354.1" x2="260.92" y2="374.4" stroke="#000" stroke-width="1.3"/>
<rect x="256.57" y="335" width="8.7" height="19.1" fill="#8db4da" stroke="#000" stroke-width="1.35"/>
<line x1="256.57" y1="342.4" x2="265.27" y2="342.4" stroke="#000" stroke-width="2.4"/>
<line x1="272.6" y1="335.2" x2="272.6" y2="348.7" stroke="#000" stroke-width="1.3"/>
<line x1="272.6" y1="365.1" x2="272.6" y2="369.5" stroke="#000" stroke-width="1.3"/>
<rect x="268.25" y="348.7" width="8.7" height="16.4" fill="#8db4da" stroke="#000" stroke-width="1.35"/>
<line x1="268.25" y1="351.8" x2="276.95" y2="351.8" stroke="#000" stroke-width="2.4"/>
<circle cx="272.6" cy="403.3" r="3.35" fill="#000" fill-opacity="0.5"/>
<line x1="284.28" y1="352.1" x2="284.28" y2="354.6" stroke="#000" stroke-width="1.3"/>
<line x1="284.28" y1="381.3" x2="284.28" y2="387.9" stroke="#000" stroke-width="1.3"/>
<rect x="279.93" y="354.6" width="8.7" height="26.7" fill="#8db4da" stroke="#000" stroke-width="1.35"/>
<line x1="279.93" y1="365.4" x2="288.63" y2="365.4" stroke="#000" stroke-width="2.4"/>
<line x1="331" y1="368.9" x2="331" y2="400.1" stroke="#000" stroke-width="1.3"/>
<rect x="326.65" y="335" width="8.7" height="33.9" fill="#8db4da" stroke="#000" stroke-width="1.35"/>
<line x1="326.65" y1="335.2" x2="335.35" y2="335.2" stroke="#000" stroke-width="2.4"/>
<line x1="342.68" y1="336" x2="342.68" y2="341.4" stroke="#000" stroke-width="1.3"/>
<line x1="342.68" y1="372.8" x2="342.68" y2="399.1" stroke="#000" stroke-width="1.3"/>
<rect x="338.33" y="341.4" width="8.7" height="31.4" fill="#8db4da" stroke="#000" stroke-width="1.35"/>
<line x1="338.33" y1="346.5" x2="347.03" y2="346.5" stroke="#000" stroke-width="2.4"/>
<polygon points="85.72,377 91.56,376.49 97.4,375.97 103.24,375.44 109.08,374.91 114.92,374.36 120.76,373.81 126.6,373.24 132.44,372.66 138.28,372.06 144.12,371.45 149.96,370.83 155.8,370.18 161.64,369.52 167.48,368.84 173.32,368.14 179.16,367.42 185,366.67 190.84,365.91 196.68,365.12 202.52,364.32 208.36,363.49 214.2,362.65 220.04,361.78 225.88,360.9 231.72,360.01 237.56,359.09 243.4,358.17 249.24,357.23 255.08,356.28 260.92,355.31 266.76,354.34 272.6,353.36 278.44,352.37 284.28,351.37 290.12,350.37 295.96,349.36 301.8,348.34 307.64,347.32 313.48,346.29 319.32,345.26 325.16,344.23 331,343.19 336.84,342.15 342.68,341.1 342.68,362.5 336.84,362.96 331,363.43 325.16,363.9 319.32,364.38 313.48,364.85 307.64,365.34 301.8,365.82 295.96,366.32 290.12,366.81 284.28,367.32 278.44,367.83 272.6,368.35 266.76,368.88 260.92,369.41 255.08,369.96 249.24,370.52 243.4,371.09 237.56,371.67 231.72,372.27 225.88,372.88 220.04,373.51 214.2,374.15 208.36,374.82 202.52,375.5 196.68,376.2 190.84,376.93 185,377.67 179.16,378.44 173.32,379.23 167.48,380.03 161.64,380.86 155.8,381.71 149.96,382.57 144.12,383.46 138.28,384.36 132.44,385.27 126.6,386.2 120.76,387.14 114.92,388.09 109.08,389.05 103.24,390.03 97.4,391.01 91.56,392 85.72,393" fill="rgba(0,0,255,0.5)"/>
<polyline points="85.72,377 91.56,376.49 97.4,375.97 103.24,375.44 109.08,374.91 114.92,374.36 120.76,373.81 126.6,373.24 132.44,372.66 138.28,372.06 144.12,371.45 149.96,370.83 155.8,370.18 161.64,369.52 167.48,368.84 173.32,368.14 179.16,367.42 185,366.67 190.84,365.91 196.68,365.12 202.52,364.32 208.36,363.49 214.2,362.65 220.04,361.78 225.88,360.9 231.72,360.01 237.56,359.09 243.4,358.17 249.24,357.23 255.08,356.28 260.92,355.31 266.76,354.34 272.6,353.36 278.44,352.37 284.28,351.37 290.12,350.37 295.96,349.36 301.8,348.34 307.64,347.32 313.48,346.29 319.32,345.26 325.16,344.23 331,343.19 336.84,342.15 342.68,341.1" fill="none" stroke="#000" stroke-width="1.4" stroke-dasharray="5.7 5.7"/>
<polyline points="85.72,393 91.56,392 97.4,391.01 103.24,390.03 109.08,389.05 114.92,388.09 120.76,387.14 126.6,386.2 132.44,385.27 138.28,384.36 144.12,383.46 149.96,382.57 155.8,381.71 161.64,380.86 167.48,380.03 173.32,379.23 179.16,378.44 185,377.67 190.84,376.93 196.68,376.2 202.52,375.5 208.36,374.82 214.2,374.15 220.04,373.51 225.88,372.88 231.72,372.27 237.56,371.67 243.4,371.09 249.24,370.52 255.08,369.96 260.92,369.41 266.76,368.88 272.6,368.35 278.44,367.83 284.28,367.32 290.12,366.81 295.96,366.32 301.8,365.82 307.64,365.34 313.48,364.85 319.32,364.38 325.16,363.9 331,363.43 336.84,362.96 342.68,362.5" fill="none" stroke="#000" stroke-width="1.4" stroke-dasharray="5.7 5.7"/>
<line x1="85.72" y1="385" x2="342.68" y2="351.8" stroke="#000" stroke-width="3.5"/>
<rect x="60.65" y="305.7" width="307.25" height="179.9" fill="none" stroke="#000" stroke-width="1.25"/>
<text transform="translate(237.1,456.4) scale(1,1.02)" font-size="15.15">2.85 (kg N/ha/yr)</text>
<text transform="translate(242,478.6) scale(1,1.02)" font-size="15.15">1.43 (%/yr)</text>
<line x1="413.95" y1="485.6" x2="413.95" y2="496.4" stroke="#000" stroke-width="1.3"/>
<text x="413.95" y="508.2" font-size="12" text-anchor="middle">2000</text>
<line x1="472.35" y1="485.6" x2="472.35" y2="496.4" stroke="#000" stroke-width="1.3"/>
<text x="472.35" y="508.2" font-size="12" text-anchor="middle">2005</text>
<line x1="530.75" y1="485.6" x2="530.75" y2="496.4" stroke="#000" stroke-width="1.3"/>
<text x="530.75" y="508.2" font-size="12" text-anchor="middle">2010</text>
<line x1="589.15" y1="485.6" x2="589.15" y2="496.4" stroke="#000" stroke-width="1.3"/>
<text x="589.15" y="508.2" font-size="12" text-anchor="middle">2015</text>
<line x1="647.55" y1="485.6" x2="647.55" y2="496.4" stroke="#000" stroke-width="1.3"/>
<text x="647.55" y="508.2" font-size="12" text-anchor="middle">2020</text>
<text transform="translate(402.65,323.9) scale(1,1.025)" font-size="13.65">Maize−Soybean</text>
<line x1="402.27" y1="344.4" x2="402.27" y2="364.9" stroke="#000" stroke-width="1.3"/>
<line x1="402.27" y1="409.9" x2="402.27" y2="460.9" stroke="#000" stroke-width="1.3"/>
<rect x="397.92" y="364.9" width="8.7" height="45" fill="#8db4da" stroke="#000" stroke-width="1.35"/>
<line x1="397.92" y1="402" x2="406.62" y2="402" stroke="#000" stroke-width="2.4"/>
<line x1="413.95" y1="395.4" x2="413.95" y2="400.8" stroke="#000" stroke-width="1.3"/>
<line x1="413.95" y1="436.2" x2="413.95" y2="457.8" stroke="#000" stroke-width="1.3"/>
<rect x="409.6" y="400.8" width="8.7" height="35.4" fill="#8db4da" stroke="#000" stroke-width="1.35"/>
<line x1="409.6" y1="420.2" x2="418.3" y2="420.2" stroke="#000" stroke-width="2.4"/>
<circle cx="413.95" cy="344" r="3.35" fill="#000" fill-opacity="0.5"/>
<line x1="425.63" y1="344.4" x2="425.63" y2="379.6" stroke="#000" stroke-width="1.3"/>
<line x1="425.63" y1="420.7" x2="425.63" y2="432.7" stroke="#000" stroke-width="1.3"/>
<rect x="421.28" y="379.6" width="8.7" height="41.1" fill="#8db4da" stroke="#000" stroke-width="1.35"/>
<line x1="421.28" y1="409.4" x2="429.98" y2="409.4" stroke="#000" stroke-width="2.4"/>
<line x1="437.31" y1="390.7" x2="437.31" y2="398" stroke="#000" stroke-width="1.3"/>
<line x1="437.31" y1="423.4" x2="437.31" y2="450.7" stroke="#000" stroke-width="1.3"/>
<rect x="432.96" y="398" width="8.7" height="25.4" fill="#8db4da" stroke="#000" stroke-width="1.35"/>
<line x1="432.96" y1="402.8" x2="441.66" y2="402.8" stroke="#000" stroke-width="2.4"/>
<line x1="448.99" y1="366" x2="448.99" y2="397.2" stroke="#000" stroke-width="1.3"/>
<line x1="448.99" y1="432.5" x2="448.99" y2="440.5" stroke="#000" stroke-width="1.3"/>
<rect x="444.64" y="397.2" width="8.7" height="35.3" fill="#8db4da" stroke="#000" stroke-width="1.35"/>
<line x1="444.64" y1="416" x2="453.34" y2="416" stroke="#000" stroke-width="2.4"/>
<line x1="460.67" y1="335.2" x2="460.67" y2="359.7" stroke="#000" stroke-width="1.3"/>
<line x1="460.67" y1="433.2" x2="460.67" y2="439.4" stroke="#000" stroke-width="1.3"/>
<rect x="456.32" y="359.7" width="8.7" height="73.5" fill="#8db4da" stroke="#000" stroke-width="1.35"/>
<line x1="456.32" y1="386.8" x2="465.02" y2="386.8" stroke="#000" stroke-width="2.4"/>
<line x1="472.35" y1="365" x2="472.35" y2="391.5" stroke="#000" stroke-width="1.3"/>
<line x1="472.35" y1="428.2" x2="472.35" y2="452.7" stroke="#000" stroke-width="1.3"/>
<rect x="468" y="391.5" width="8.7" height="36.7" fill="#8db4da" stroke="#000" stroke-width="1.35"/>
<line x1="468" y1="405.5" x2="476.7" y2="405.5" stroke="#000" stroke-width="2.4"/>
<line x1="484.03" y1="356.2" x2="484.03" y2="385.9" stroke="#000" stroke-width="1.3"/>
<line x1="484.03" y1="419.4" x2="484.03" y2="444.6" stroke="#000" stroke-width="1.3"/>
<rect x="479.68" y="385.9" width="8.7" height="33.5" fill="#8db4da" stroke="#000" stroke-width="1.35"/>
<line x1="479.68" y1="404.8" x2="488.38" y2="404.8" stroke="#000" stroke-width="2.4"/>
<line x1="495.71" y1="354.1" x2="495.71" y2="374.3" stroke="#000" stroke-width="1.3"/>
<line x1="495.71" y1="399.3" x2="495.71" y2="417.8" stroke="#000" stroke-width="1.3"/>
<rect x="491.36" y="374.3" width="8.7" height="25" fill="#8db4da" stroke="#000" stroke-width="1.35"/>
<line x1="491.36" y1="393.65" x2="500.06" y2="393.65" stroke="#000" stroke-width="2.4"/>
<line x1="507.39" y1="344.4" x2="507.39" y2="362.5" stroke="#000" stroke-width="1.3"/>
<line x1="507.39" y1="385.1" x2="507.39" y2="404.6" stroke="#000" stroke-width="1.3"/>
<rect x="503.04" y="362.5" width="8.7" height="22.6" fill="#8db4da" stroke="#000" stroke-width="1.35"/>
<line x1="503.04" y1="373.8" x2="511.74" y2="373.8" stroke="#000" stroke-width="2.4"/>
<circle cx="507.39" cy="426.8" r="3.35" fill="#000" fill-opacity="0.5"/>
<line x1="519.07" y1="378.8" x2="519.07" y2="381.7" stroke="#000" stroke-width="1.3"/>
<line x1="519.07" y1="400.4" x2="519.07" y2="406.4" stroke="#000" stroke-width="1.3"/>
<rect x="514.72" y="381.7" width="8.7" height="18.7" fill="#8db4da" stroke="#000" stroke-width="1.35"/>
<line x1="514.72" y1="389.98" x2="523.42" y2="389.98" stroke="#000" stroke-width="2.4"/>
<circle cx="519.07" cy="335.2" r="3.35" fill="#000" fill-opacity="0.5"/>
<line x1="530.75" y1="335.2" x2="530.75" y2="362.9" stroke="#000" stroke-width="1.3"/>
<line x1="530.75" y1="393.5" x2="530.75" y2="431.3" stroke="#000" stroke-width="1.3"/>
<rect x="526.4" y="362.9" width="8.7" height="30.6" fill="#8db4da" stroke="#000" stroke-width="1.35"/>
<line x1="526.4" y1="373.6" x2="535.1" y2="373.6" stroke="#000" stroke-width="2.4"/>
<line x1="542.43" y1="335.2" x2="542.43" y2="360.8" stroke="#000" stroke-width="1.3"/>
<line x1="542.43" y1="410.4" x2="542.43" y2="426.2" stroke="#000" stroke-width="1.3"/>
<rect x="538.08" y="360.8" width="8.7" height="49.6" fill="#8db4da" stroke="#000" stroke-width="1.35"/>
<line x1="538.08" y1="405.1" x2="546.78" y2="405.1" stroke="#000" stroke-width="2.4"/>
<line x1="554.11" y1="370.2" x2="554.11" y2="394.5" stroke="#000" stroke-width="1.3"/>
<line x1="554.11" y1="419.4" x2="554.11" y2="423.1" stroke="#000" stroke-width="1.3"/>
<rect x="549.76" y="394.5" width="8.7" height="24.9" fill="#8db4da" stroke="#000" stroke-width="1.35"/>
<line x1="549.76" y1="406.1" x2="558.46" y2="406.1" stroke="#000" stroke-width="2.4"/>
<circle cx="554.11" cy="477.9" r="3.35" fill="#000" fill-opacity="0.5"/>
<line x1="565.79" y1="370.3" x2="565.79" y2="374.4" stroke="#000" stroke-width="1.3"/>
<line x1="565.79" y1="397.9" x2="565.79" y2="411" stroke="#000" stroke-width="1.3"/>
<rect x="561.44" y="374.4" width="8.7" height="23.5" fill="#8db4da" stroke="#000" stroke-width="1.35"/>
<line x1="561.44" y1="390.5" x2="570.14" y2="390.5" stroke="#000" stroke-width="2.4"/>
<circle cx="565.79" cy="335.2" r="3.35" fill="#000" fill-opacity="0.5"/>
<line x1="577.47" y1="335.3" x2="577.47" y2="354.5" stroke="#000" stroke-width="1.3"/>
<line x1="577.47" y1="388.9" x2="577.47" y2="397.3" stroke="#000" stroke-width="1.3"/>
<rect x="573.12" y="354.5" width="8.7" height="34.4" fill="#8db4da" stroke="#000" stroke-width="1.35"/>
<line x1="573.12" y1="371.4" x2="581.82" y2="371.4" stroke="#000" stroke-width="2.4"/>
<line x1="589.15" y1="335.3" x2="589.15" y2="342.8" stroke="#000" stroke-width="1.3"/>
<line x1="589.15" y1="404" x2="589.15" y2="414.5" stroke="#000" stroke-width="1.3"/>
<rect x="584.8" y="342.8" width="8.7" height="61.2" fill="#8db4da" stroke="#000" stroke-width="1.35"/>
<line x1="584.8" y1="378.99" x2="593.5" y2="378.99" stroke="#000" stroke-width="2.4"/>
<line x1="600.83" y1="350.4" x2="600.83" y2="366.7" stroke="#000" stroke-width="1.3"/>
<line x1="600.83" y1="386.9" x2="600.83" y2="415.5" stroke="#000" stroke-width="1.3"/>
<rect x="596.48" y="366.7" width="8.7" height="20.2" fill="#8db4da" stroke="#000" stroke-width="1.35"/>
<line x1="596.48" y1="377.16" x2="605.18" y2="377.16" stroke="#000" stroke-width="2.4"/>
<line x1="647.55" y1="348.2" x2="647.55" y2="354.5" stroke="#000" stroke-width="1.3"/>
<line x1="647.55" y1="383.2" x2="647.55" y2="385.5" stroke="#000" stroke-width="1.3"/>
<rect x="643.2" y="354.5" width="8.7" height="28.7" fill="#8db4da" stroke="#000" stroke-width="1.35"/>
<line x1="643.2" y1="369.83" x2="651.9" y2="369.83" stroke="#000" stroke-width="2.4"/>
<circle cx="647.55" cy="447.2" r="3.35" fill="#000" fill-opacity="0.5"/>
<line x1="659.23" y1="336" x2="659.23" y2="347.3" stroke="#000" stroke-width="1.3"/>
<line x1="659.23" y1="397.6" x2="659.23" y2="403.2" stroke="#000" stroke-width="1.3"/>
<rect x="654.88" y="347.3" width="8.7" height="50.3" fill="#8db4da" stroke="#000" stroke-width="1.35"/>
<line x1="654.88" y1="389.6" x2="663.58" y2="389.6" stroke="#000" stroke-width="2.4"/>
<polygon points="402.27,400.7 408.11,400.01 413.95,399.31 419.79,398.6 425.63,397.88 431.47,397.15 437.31,396.41 443.15,395.66 448.99,394.89 454.83,394.11 460.67,393.31 466.51,392.49 472.35,391.66 478.19,390.81 484.03,389.94 489.87,389.05 495.71,388.15 501.55,387.22 507.39,386.27 513.23,385.3 519.07,384.32 524.91,383.31 530.75,382.29 536.59,381.25 542.43,380.2 548.27,379.13 554.11,378.05 559.95,376.95 565.79,375.85 571.63,374.73 577.47,373.61 583.31,372.47 589.15,371.33 594.99,370.18 600.83,369.03 606.67,367.86 612.51,366.7 618.35,365.52 624.19,364.35 630.03,363.16 635.87,361.98 641.71,360.79 647.55,359.6 653.39,358.4 659.23,357.2 659.23,378.8 653.39,379.43 647.55,380.07 641.71,380.71 635.87,381.35 630.03,382 624.19,382.65 618.35,383.3 612.51,383.96 606.67,384.62 600.83,385.29 594.99,385.97 589.15,386.65 583.31,387.34 577.47,388.04 571.63,388.74 565.79,389.46 559.95,390.19 554.11,390.92 548.27,391.68 542.43,392.44 536.59,393.22 530.75,394.01 524.91,394.82 519.07,395.65 513.23,396.49 507.39,397.36 501.55,398.24 495.71,399.15 489.87,400.07 484.03,401.01 478.19,401.97 472.35,402.96 466.51,403.96 460.67,404.97 454.83,406.01 448.99,407.06 443.15,408.12 437.31,409.2 431.47,410.29 425.63,411.39 419.79,412.51 413.95,413.63 408.11,414.76 402.27,415.9" fill="rgba(0,0,255,0.5)"/>
<polyline points="402.27,400.7 408.11,400.01 413.95,399.31 419.79,398.6 425.63,397.88 431.47,397.15 437.31,396.41 443.15,395.66 448.99,394.89 454.83,394.11 460.67,393.31 466.51,392.49 472.35,391.66 478.19,390.81 484.03,389.94 489.87,389.05 495.71,388.15 501.55,387.22 507.39,386.27 513.23,385.3 519.07,384.32 524.91,383.31 530.75,382.29 536.59,381.25 542.43,380.2 548.27,379.13 554.11,378.05 559.95,376.95 565.79,375.85 571.63,374.73 577.47,373.61 583.31,372.47 589.15,371.33 594.99,370.18 600.83,369.03 606.67,367.86 612.51,366.7 618.35,365.52 624.19,364.35 630.03,363.16 635.87,361.98 641.71,360.79 647.55,359.6 653.39,358.4 659.23,357.2" fill="none" stroke="#000" stroke-width="1.4" stroke-dasharray="5.7 5.7"/>
<polyline points="402.27,415.9 408.11,414.76 413.95,413.63 419.79,412.51 425.63,411.39 431.47,410.29 437.31,409.2 443.15,408.12 448.99,407.06 454.83,406.01 460.67,404.97 466.51,403.96 472.35,402.96 478.19,401.97 484.03,401.01 489.87,400.07 495.71,399.15 501.55,398.24 507.39,397.36 513.23,396.49 519.07,395.65 524.91,394.82 530.75,394.01 536.59,393.22 542.43,392.44 548.27,391.68 554.11,390.92 559.95,390.19 565.79,389.46 571.63,388.74 577.47,388.04 583.31,387.34 589.15,386.65 594.99,385.97 600.83,385.29 606.67,384.62 612.51,383.96 618.35,383.3 624.19,382.65 630.03,382 635.87,381.35 641.71,380.71 647.55,380.07 653.39,379.43 659.23,378.8" fill="none" stroke="#000" stroke-width="1.4" stroke-dasharray="5.7 5.7"/>
<line x1="402.27" y1="408.3" x2="659.23" y2="368" stroke="#000" stroke-width="3.5"/>
<rect x="377.2" y="305.7" width="307.25" height="179.9" fill="none" stroke="#000" stroke-width="1.25"/>
<text transform="translate(553.65,456.4) scale(1,1.02)" font-size="15.15">3.46 (kg N/ha/yr)</text>
<text transform="translate(558.55,478.6) scale(1,1.02)" font-size="15.15">2.16 (%/yr)</text>
<path d="M67.3,545.2 Q54.5,555.85 67.3,566.5 L67.65,566.3 Q57.55,555.85 67.65,545.4 Z" fill="#000"/>
<path d="M81.3,545.2 Q94.1,555.85 81.3,566.5 L80.95,566.3 Q91.05,555.85 80.95,545.4 Z" fill="#000"/>
<text x="74.2" y="561.8" font-size="17.5" text-anchor="middle">C</text>
<text x="93.6" y="561.8" font-size="17.6">Envrionmental Optimum N Rate</text>
<g transform="translate(15.4,737.43) rotate(-90)">
<text x="0" y="0" font-size="14.6">EnvONR</text>
<path d="M68.86,-13.4 Q57.06,-4.65 68.86,4.1 L69.21,3.9 Q59.81,-4.65 69.21,-13.2 Z" fill="#000"/>
<text x="69.11" y="0" font-size="14.6">kg N ha</text>
<text x="118.86" y="-7.4" font-size="10.7">−1</text>
<path d="M132.16,-13.1 Q142.56,-4.85 132.16,3.4 L131.81,3.2 Q139.81,-4.85 131.81,-12.9 Z" fill="#000"/>
</g>
<line x1="49.9" y1="750.4" x2="60.65" y2="750.4" stroke="#000" stroke-width="1.3"/>
<text x="46.9" y="755.6" font-size="12" text-anchor="end">0</text>
<line x1="49.9" y1="718.62" x2="60.65" y2="718.62" stroke="#000" stroke-width="1.3"/>
<text x="46.9" y="723.82" font-size="12" text-anchor="end">60</text>
<line x1="49.9" y1="686.84" x2="60.65" y2="686.84" stroke="#000" stroke-width="1.3"/>
<text x="46.9" y="692.04" font-size="12" text-anchor="end">120</text>
<line x1="49.9" y1="655.05" x2="60.65" y2="655.05" stroke="#000" stroke-width="1.3"/>
<text x="46.9" y="660.25" font-size="12" text-anchor="end">180</text>
<line x1="49.9" y1="623.27" x2="60.65" y2="623.27" stroke="#000" stroke-width="1.3"/>
<text x="46.9" y="628.47" font-size="12" text-anchor="end">240</text>
<line x1="49.9" y1="591.49" x2="60.65" y2="591.49" stroke="#000" stroke-width="1.3"/>
<text x="46.9" y="596.69" font-size="12" text-anchor="end">300</text>
<text x="372.8" y="798.8" font-size="15.5" text-anchor="middle">Year</text>
<line x1="97.4" y1="758.3" x2="97.4" y2="769.1" stroke="#000" stroke-width="1.3"/>
<text x="97.4" y="780.9" font-size="12" text-anchor="middle">2000</text>
<line x1="155.8" y1="758.3" x2="155.8" y2="769.1" stroke="#000" stroke-width="1.3"/>
<text x="155.8" y="780.9" font-size="12" text-anchor="middle">2005</text>
<line x1="214.2" y1="758.3" x2="214.2" y2="769.1" stroke="#000" stroke-width="1.3"/>
<text x="214.2" y="780.9" font-size="12" text-anchor="middle">2010</text>
<line x1="272.6" y1="758.3" x2="272.6" y2="769.1" stroke="#000" stroke-width="1.3"/>
<text x="272.6" y="780.9" font-size="12" text-anchor="middle">2015</text>
<line x1="331" y1="758.3" x2="331" y2="769.1" stroke="#000" stroke-width="1.3"/>
<text x="331" y="780.9" font-size="12" text-anchor="middle">2020</text>
<text transform="translate(86.1,596.6) scale(1,1.025)" font-size="13.65">Continuous Maize</text>
<line x1="85.72" y1="617.4" x2="85.72" y2="638.5" stroke="#000" stroke-width="1.3"/>
<line x1="85.72" y1="687.3" x2="85.72" y2="733.9" stroke="#000" stroke-width="1.3"/>
<rect x="81.37" y="638.5" width="8.7" height="48.8" fill="#8fc19f" stroke="#000" stroke-width="1.35"/>
<line x1="81.37" y1="661.3" x2="90.07" y2="661.3" stroke="#000" stroke-width="2.4"/>
<line x1="97.4" y1="646.6" x2="97.4" y2="671.8" stroke="#000" stroke-width="1.3"/>
<line x1="97.4" y1="698.5" x2="97.4" y2="733.9" stroke="#000" stroke-width="1.3"/>
<rect x="93.05" y="671.8" width="8.7" height="26.7" fill="#8fc19f" stroke="#000" stroke-width="1.35"/>
<line x1="93.05" y1="691.25" x2="101.75" y2="691.25" stroke="#000" stroke-width="2.4"/>
<line x1="109.08" y1="681.7" x2="109.08" y2="684.5" stroke="#000" stroke-width="1.3"/>
<line x1="109.08" y1="694.5" x2="109.08" y2="704.5" stroke="#000" stroke-width="1.3"/>
<rect x="104.73" y="684.5" width="8.7" height="10" fill="#8fc19f" stroke="#000" stroke-width="1.35"/>
<line x1="104.73" y1="690.69" x2="113.43" y2="690.69" stroke="#000" stroke-width="2.4"/>
<circle cx="109.08" cy="710.1" r="3.35" fill="#000" fill-opacity="0.5"/>
<rect x="116.41" y="683.7" width="8.7" height="12.8" fill="#8fc19f" stroke="#000" stroke-width="1.35"/>
<line x1="116.41" y1="690.14" x2="125.11" y2="690.14" stroke="#000" stroke-width="2.4"/>
<circle cx="120.76" cy="663.8" r="3.35" fill="#000" fill-opacity="0.5"/>
<circle cx="120.76" cy="711.4" r="3.35" fill="#000" fill-opacity="0.5"/>
<circle cx="120.76" cy="713.4" r="3.35" fill="#000" fill-opacity="0.5"/>
<line x1="132.44" y1="667.4" x2="132.44" y2="678.7" stroke="#000" stroke-width="1.3"/>
<line x1="132.44" y1="708" x2="132.44" y2="727.5" stroke="#000" stroke-width="1.3"/>
<rect x="128.09" y="678.7" width="8.7" height="29.3" fill="#8fc19f" stroke="#000" stroke-width="1.35"/>
<line x1="128.09" y1="689.58" x2="136.79" y2="689.58" stroke="#000" stroke-width="2.4"/>
<line x1="144.12" y1="666.4" x2="144.12" y2="674.1" stroke="#000" stroke-width="1.3"/>
<line x1="144.12" y1="690.9" x2="144.12" y2="709.8" stroke="#000" stroke-width="1.3"/>
<rect x="139.77" y="674.1" width="8.7" height="16.8" fill="#8fc19f" stroke="#000" stroke-width="1.35"/>
<line x1="139.77" y1="683" x2="148.47" y2="683" stroke="#000" stroke-width="2.4"/>
<circle cx="144.12" cy="618.4" r="3.35" fill="#000" fill-opacity="0.5"/>
<line x1="155.8" y1="641.9" x2="155.8" y2="677.5" stroke="#000" stroke-width="1.3"/>
<line x1="155.8" y1="705.8" x2="155.8" y2="741.5" stroke="#000" stroke-width="1.3"/>
<rect x="151.45" y="677.5" width="8.7" height="28.3" fill="#8fc19f" stroke="#000" stroke-width="1.35"/>
<line x1="151.45" y1="688.47" x2="160.15" y2="688.47" stroke="#000" stroke-width="2.4"/>
<line x1="167.48" y1="661.4" x2="167.48" y2="679.8" stroke="#000" stroke-width="1.3"/>
<line x1="167.48" y1="699" x2="167.48" y2="720.1" stroke="#000" stroke-width="1.3"/>
<rect x="163.13" y="679.8" width="8.7" height="19.2" fill="#8fc19f" stroke="#000" stroke-width="1.35"/>
<line x1="163.13" y1="682.7" x2="171.83" y2="682.7" stroke="#000" stroke-width="2.4"/>
<circle cx="167.48" cy="640.9" r="3.35" fill="#000" fill-opacity="0.5"/>
<line x1="179.16" y1="673.3" x2="179.16" y2="681.7" stroke="#000" stroke-width="1.3"/>
<line x1="179.16" y1="705" x2="179.16" y2="726.2" stroke="#000" stroke-width="1.3"/>
<rect x="174.81" y="681.7" width="8.7" height="23.3" fill="#8fc19f" stroke="#000" stroke-width="1.35"/>
<line x1="174.81" y1="696.8" x2="183.51" y2="696.8" stroke="#000" stroke-width="2.4"/>
<line x1="190.84" y1="667.2" x2="190.84" y2="684" stroke="#000" stroke-width="1.3"/>
<line x1="190.84" y1="709.3" x2="190.84" y2="725.6" stroke="#000" stroke-width="1.3"/>
<rect x="186.49" y="684" width="8.7" height="25.3" fill="#8fc19f" stroke="#000" stroke-width="1.35"/>
<line x1="186.49" y1="703.7" x2="195.19" y2="703.7" stroke="#000" stroke-width="2.4"/>
<line x1="202.52" y1="667.2" x2="202.52" y2="674" stroke="#000" stroke-width="1.3"/>
<line x1="202.52" y1="695.6" x2="202.52" y2="714.6" stroke="#000" stroke-width="1.3"/>
<rect x="198.17" y="674" width="8.7" height="21.6" fill="#8fc19f" stroke="#000" stroke-width="1.35"/>
<line x1="198.17" y1="677.4" x2="206.87" y2="677.4" stroke="#000" stroke-width="2.4"/>
<line x1="214.2" y1="674.5" x2="214.2" y2="677.8" stroke="#000" stroke-width="1.3"/>
<line x1="214.2" y1="694" x2="214.2" y2="718.2" stroke="#000" stroke-width="1.3"/>
<rect x="209.85" y="677.8" width="8.7" height="16.2" fill="#8fc19f" stroke="#000" stroke-width="1.35"/>
<line x1="209.85" y1="685.7" x2="218.55" y2="685.7" stroke="#000" stroke-width="2.4"/>
<line x1="225.88" y1="641.3" x2="225.88" y2="664.8" stroke="#000" stroke-width="1.3"/>
<line x1="225.88" y1="679.4" x2="225.88" y2="686" stroke="#000" stroke-width="1.3"/>
<rect x="221.53" y="664.8" width="8.7" height="14.6" fill="#8fc19f" stroke="#000" stroke-width="1.35"/>
<line x1="221.53" y1="678" x2="230.23" y2="678" stroke="#000" stroke-width="2.4"/>
<line x1="237.56" y1="669.2" x2="237.56" y2="676" stroke="#000" stroke-width="1.3"/>
<line x1="237.56" y1="702.4" x2="237.56" y2="704.7" stroke="#000" stroke-width="1.3"/>
<rect x="233.21" y="676" width="8.7" height="26.4" fill="#8fc19f" stroke="#000" stroke-width="1.35"/>
<line x1="233.21" y1="684.59" x2="241.91" y2="684.59" stroke="#000" stroke-width="2.4"/>
<circle cx="237.56" cy="750.3" r="3.35" fill="#000" fill-opacity="0.5"/>
<line x1="249.24" y1="671.4" x2="249.24" y2="697.3" stroke="#000" stroke-width="1.3"/>
<line x1="249.24" y1="717.4" x2="249.24" y2="717.6" stroke="#000" stroke-width="1.3"/>
<rect x="244.89" y="697.3" width="8.7" height="20.1" fill="#8fc19f" stroke="#000" stroke-width="1.35"/>
<line x1="244.89" y1="710.8" x2="253.59" y2="710.8" stroke="#000" stroke-width="2.4"/>
<line x1="260.92" y1="671.4" x2="260.92" y2="672.4" stroke="#000" stroke-width="1.3"/>
<line x1="260.92" y1="702.8" x2="260.92" y2="737" stroke="#000" stroke-width="1.3"/>
<rect x="256.57" y="672.4" width="8.7" height="30.4" fill="#8fc19f" stroke="#000" stroke-width="1.35"/>
<line x1="256.57" y1="691.2" x2="265.27" y2="691.2" stroke="#000" stroke-width="2.4"/>
<circle cx="260.92" cy="618.8" r="3.35" fill="#000" fill-opacity="0.5"/>
<line x1="272.6" y1="672.5" x2="272.6" y2="680.2" stroke="#000" stroke-width="1.3"/>
<rect x="268.25" y="680.2" width="8.7" height="12.3" fill="#8fc19f" stroke="#000" stroke-width="1.35"/>
<line x1="268.25" y1="691.4" x2="276.95" y2="691.4" stroke="#000" stroke-width="2.4"/>
<circle cx="272.6" cy="710.8" r="3.35" fill="#000" fill-opacity="0.5"/>
<line x1="284.28" y1="637.9" x2="284.28" y2="664.4" stroke="#000" stroke-width="1.3"/>
<line x1="284.28" y1="687" x2="284.28" y2="717.6" stroke="#000" stroke-width="1.3"/>
<rect x="279.93" y="664.4" width="8.7" height="22.6" fill="#8fc19f" stroke="#000" stroke-width="1.35"/>
<line x1="279.93" y1="679.2" x2="288.63" y2="679.2" stroke="#000" stroke-width="2.4"/>
<line x1="331" y1="638" x2="331" y2="652.6" stroke="#000" stroke-width="1.3"/>
<line x1="331" y1="672.7" x2="331" y2="676.3" stroke="#000" stroke-width="1.3"/>
<rect x="326.65" y="652.6" width="8.7" height="20.1" fill="#8fc19f" stroke="#000" stroke-width="1.35"/>
<line x1="326.65" y1="661.8" x2="335.35" y2="661.8" stroke="#000" stroke-width="2.4"/>
<line x1="342.68" y1="628.8" x2="342.68" y2="647.5" stroke="#000" stroke-width="1.3"/>
<line x1="342.68" y1="673.8" x2="342.68" y2="693.9" stroke="#000" stroke-width="1.3"/>
<rect x="338.33" y="647.5" width="8.7" height="26.3" fill="#8fc19f" stroke="#000" stroke-width="1.35"/>
<line x1="338.33" y1="667.6" x2="347.03" y2="667.6" stroke="#000" stroke-width="2.4"/>
<polygon points="85.72,684.8 91.56,684.72 97.4,684.63 103.24,684.53 109.08,684.43 114.92,684.31 120.76,684.19 126.6,684.06 132.44,683.92 138.28,683.77 144.12,683.61 149.96,683.43 155.8,683.25 161.64,683.04 167.48,682.83 173.32,682.6 179.16,682.35 185,682.09 190.84,681.81 196.68,681.51 202.52,681.2 208.36,680.88 214.2,680.54 220.04,680.18 225.88,679.81 231.72,679.43 237.56,679.04 243.4,678.63 249.24,678.22 255.08,677.79 260.92,677.35 266.76,676.91 272.6,676.46 278.44,676 284.28,675.53 290.12,675.06 295.96,674.58 301.8,674.1 307.64,673.61 313.48,673.12 319.32,672.62 325.16,672.12 331,671.62 336.84,671.11 342.68,670.6 342.68,688.6 336.84,688.64 331,688.69 325.16,688.74 319.32,688.8 313.48,688.86 307.64,688.92 301.8,688.98 295.96,689.06 290.12,689.13 284.28,689.21 278.44,689.3 272.6,689.4 266.76,689.5 260.92,689.61 255.08,689.73 249.24,689.86 243.4,690 237.56,690.14 231.72,690.31 225.88,690.48 220.04,690.66 214.2,690.86 208.36,691.08 202.52,691.31 196.68,691.55 190.84,691.81 185,692.09 179.16,692.38 173.32,692.69 167.48,693.01 161.64,693.35 155.8,693.7 149.96,694.07 144.12,694.44 138.28,694.84 132.44,695.24 126.6,695.65 120.76,696.08 114.92,696.51 109.08,696.95 103.24,697.41 97.4,697.86 91.56,698.33 85.72,698.8" fill="rgba(0,255,0,0.5)"/>
<polyline points="85.72,684.8 91.56,684.72 97.4,684.63 103.24,684.53 109.08,684.43 114.92,684.31 120.76,684.19 126.6,684.06 132.44,683.92 138.28,683.77 144.12,683.61 149.96,683.43 155.8,683.25 161.64,683.04 167.48,682.83 173.32,682.6 179.16,682.35 185,682.09 190.84,681.81 196.68,681.51 202.52,681.2 208.36,680.88 214.2,680.54 220.04,680.18 225.88,679.81 231.72,679.43 237.56,679.04 243.4,678.63 249.24,678.22 255.08,677.79 260.92,677.35 266.76,676.91 272.6,676.46 278.44,676 284.28,675.53 290.12,675.06 295.96,674.58 301.8,674.1 307.64,673.61 313.48,673.12 319.32,672.62 325.16,672.12 331,671.62 336.84,671.11 342.68,670.6" fill="none" stroke="#000" stroke-width="1.4" stroke-dasharray="5.7 5.7"/>
<polyline points="85.72,698.8 91.56,698.33 97.4,697.86 103.24,697.41 109.08,696.95 114.92,696.51 120.76,696.08 126.6,695.65 132.44,695.24 138.28,694.84 144.12,694.44 149.96,694.07 155.8,693.7 161.64,693.35 167.48,693.01 173.32,692.69 179.16,692.38 185,692.09 190.84,691.81 196.68,691.55 202.52,691.31 208.36,691.08 214.2,690.86 220.04,690.66 225.88,690.48 231.72,690.31 237.56,690.14 243.4,690 249.24,689.86 255.08,689.73 260.92,689.61 266.76,689.5 272.6,689.4 278.44,689.3 284.28,689.21 290.12,689.13 295.96,689.06 301.8,688.98 307.64,688.92 313.48,688.86 319.32,688.8 325.16,688.74 331,688.69 336.84,688.64 342.68,688.6" fill="none" stroke="#000" stroke-width="1.4" stroke-dasharray="5.7 5.7"/>
<line x1="85.72" y1="691.8" x2="342.68" y2="679.6" stroke="#000" stroke-width="3.5"/>
<rect x="60.65" y="578.4" width="307.25" height="179.9" fill="none" stroke="#000" stroke-width="1.25"/>
<text transform="translate(237.1,729.1) scale(1,1.02)" font-size="15.15">1.05 (kg N/ha/yr)</text>
<text transform="translate(242,751.3) scale(1,1.02)" font-size="15.15">0.87 (%/yr)</text>
<line x1="413.95" y1="758.3" x2="413.95" y2="769.1" stroke="#000" stroke-width="1.3"/>
<text x="413.95" y="780.9" font-size="12" text-anchor="middle">2000</text>
<line x1="472.35" y1="758.3" x2="472.35" y2="769.1" stroke="#000" stroke-width="1.3"/>
<text x="472.35" y="780.9" font-size="12" text-anchor="middle">2005</text>
<line x1="530.75" y1="758.3" x2="530.75" y2="769.1" stroke="#000" stroke-width="1.3"/>
<text x="530.75" y="780.9" font-size="12" text-anchor="middle">2010</text>
<line x1="589.15" y1="758.3" x2="589.15" y2="769.1" stroke="#000" stroke-width="1.3"/>
<text x="589.15" y="780.9" font-size="12" text-anchor="middle">2015</text>
<line x1="647.55" y1="758.3" x2="647.55" y2="769.1" stroke="#000" stroke-width="1.3"/>
<text x="647.55" y="780.9" font-size="12" text-anchor="middle">2020</text>
<text transform="translate(402.65,596.6) scale(1,1.025)" font-size="13.65">Maize−Soybean</text>
<line x1="402.27" y1="629.1" x2="402.27" y2="640.9" stroke="#000" stroke-width="1.3"/>
<line x1="402.27" y1="684.7" x2="402.27" y2="733.8" stroke="#000" stroke-width="1.3"/>
<rect x="397.92" y="640.9" width="8.7" height="43.8" fill="#8fc19f" stroke="#000" stroke-width="1.35"/>
<line x1="397.92" y1="681.9" x2="406.62" y2="681.9" stroke="#000" stroke-width="2.4"/>
<line x1="413.95" y1="659.8" x2="413.95" y2="677.2" stroke="#000" stroke-width="1.3"/>
<line x1="413.95" y1="711.6" x2="413.95" y2="734.5" stroke="#000" stroke-width="1.3"/>
<rect x="409.6" y="677.2" width="8.7" height="34.4" fill="#8fc19f" stroke="#000" stroke-width="1.35"/>
<line x1="409.6" y1="700" x2="418.3" y2="700" stroke="#000" stroke-width="2.4"/>
<line x1="425.63" y1="650.1" x2="425.63" y2="682.4" stroke="#000" stroke-width="1.3"/>
<line x1="425.63" y1="705.2" x2="425.63" y2="725.6" stroke="#000" stroke-width="1.3"/>
<rect x="421.28" y="682.4" width="8.7" height="22.8" fill="#8fc19f" stroke="#000" stroke-width="1.35"/>
<line x1="421.28" y1="697.9" x2="429.98" y2="697.9" stroke="#000" stroke-width="2.4"/>
<line x1="437.31" y1="669.2" x2="437.31" y2="673.4" stroke="#000" stroke-width="1.3"/>
<line x1="437.31" y1="700.1" x2="437.31" y2="726.4" stroke="#000" stroke-width="1.3"/>
<rect x="432.96" y="673.4" width="8.7" height="26.7" fill="#8fc19f" stroke="#000" stroke-width="1.35"/>
<line x1="432.96" y1="683.5" x2="441.66" y2="683.5" stroke="#000" stroke-width="2.4"/>
<circle cx="437.31" cy="748.8" r="3.35" fill="#000" fill-opacity="0.5"/>
<line x1="448.99" y1="664.5" x2="448.99" y2="682.6" stroke="#000" stroke-width="1.3"/>
<line x1="448.99" y1="712.2" x2="448.99" y2="714" stroke="#000" stroke-width="1.3"/>
<rect x="444.64" y="682.6" width="8.7" height="29.6" fill="#8fc19f" stroke="#000" stroke-width="1.35"/>
<line x1="444.64" y1="696.3" x2="453.34" y2="696.3" stroke="#000" stroke-width="2.4"/>
<line x1="460.67" y1="634.4" x2="460.67" y2="656.3" stroke="#000" stroke-width="1.3"/>
<line x1="460.67" y1="707.2" x2="460.67" y2="719.6" stroke="#000" stroke-width="1.3"/>
<rect x="456.32" y="656.3" width="8.7" height="50.9" fill="#8fc19f" stroke="#000" stroke-width="1.35"/>
<line x1="456.32" y1="679.4" x2="465.02" y2="679.4" stroke="#000" stroke-width="2.4"/>
<line x1="472.35" y1="650.1" x2="472.35" y2="676.4" stroke="#000" stroke-width="1.3"/>
<line x1="472.35" y1="712.3" x2="472.35" y2="727.8" stroke="#000" stroke-width="1.3"/>
<rect x="468" y="676.4" width="8.7" height="35.9" fill="#8fc19f" stroke="#000" stroke-width="1.35"/>
<line x1="468" y1="685.22" x2="476.7" y2="685.22" stroke="#000" stroke-width="2.4"/>
<line x1="484.03" y1="659.2" x2="484.03" y2="681" stroke="#000" stroke-width="1.3"/>
<line x1="484.03" y1="700.3" x2="484.03" y2="720.2" stroke="#000" stroke-width="1.3"/>
<rect x="479.68" y="681" width="8.7" height="19.3" fill="#8fc19f" stroke="#000" stroke-width="1.35"/>
<line x1="479.68" y1="695.8" x2="488.38" y2="695.8" stroke="#000" stroke-width="2.4"/>
<line x1="495.71" y1="654.3" x2="495.71" y2="677.8" stroke="#000" stroke-width="1.3"/>
<line x1="495.71" y1="694.2" x2="495.71" y2="698.4" stroke="#000" stroke-width="1.3"/>
<rect x="491.36" y="677.8" width="8.7" height="16.4" fill="#8fc19f" stroke="#000" stroke-width="1.35"/>
<line x1="491.36" y1="682.19" x2="500.06" y2="682.19" stroke="#000" stroke-width="2.4"/>
<line x1="507.39" y1="636.8" x2="507.39" y2="658.4" stroke="#000" stroke-width="1.3"/>
<line x1="507.39" y1="677" x2="507.39" y2="711.5" stroke="#000" stroke-width="1.3"/>
<rect x="503.04" y="658.4" width="8.7" height="18.6" fill="#8fc19f" stroke="#000" stroke-width="1.35"/>
<line x1="503.04" y1="670.3" x2="511.74" y2="670.3" stroke="#000" stroke-width="2.4"/>
<line x1="519.07" y1="636.8" x2="519.07" y2="661.5" stroke="#000" stroke-width="1.3"/>
<line x1="519.07" y1="685.5" x2="519.07" y2="687.4" stroke="#000" stroke-width="1.3"/>
<rect x="514.72" y="661.5" width="8.7" height="24" fill="#8fc19f" stroke="#000" stroke-width="1.35"/>
<line x1="514.72" y1="679.16" x2="523.42" y2="679.16" stroke="#000" stroke-width="2.4"/>
<line x1="530.75" y1="655.3" x2="530.75" y2="663.8" stroke="#000" stroke-width="1.3"/>
<line x1="530.75" y1="686.4" x2="530.75" y2="705.6" stroke="#000" stroke-width="1.3"/>
<rect x="526.4" y="663.8" width="8.7" height="22.6" fill="#8fc19f" stroke="#000" stroke-width="1.35"/>
<line x1="526.4" y1="664.2" x2="535.1" y2="664.2" stroke="#000" stroke-width="2.4"/>
<line x1="542.43" y1="636.4" x2="542.43" y2="653.6" stroke="#000" stroke-width="1.3"/>
<line x1="542.43" y1="694.1" x2="542.43" y2="703.9" stroke="#000" stroke-width="1.3"/>
<rect x="538.08" y="653.6" width="8.7" height="40.5" fill="#8fc19f" stroke="#000" stroke-width="1.35"/>
<line x1="538.08" y1="686.9" x2="546.78" y2="686.9" stroke="#000" stroke-width="2.4"/>
<line x1="554.11" y1="648.8" x2="554.11" y2="668.3" stroke="#000" stroke-width="1.3"/>
<rect x="549.76" y="668.3" width="8.7" height="28" fill="#8fc19f" stroke="#000" stroke-width="1.35"/>
<line x1="549.76" y1="686.8" x2="558.46" y2="686.8" stroke="#000" stroke-width="2.4"/>
<circle cx="554.11" cy="750.3" r="3.35" fill="#000" fill-opacity="0.5"/>
<line x1="565.79" y1="660.4" x2="565.79" y2="667" stroke="#000" stroke-width="1.3"/>
<line x1="565.79" y1="681.3" x2="565.79" y2="689" stroke="#000" stroke-width="1.3"/>
<rect x="561.44" y="667" width="8.7" height="14.3" fill="#8fc19f" stroke="#000" stroke-width="1.35"/>
<line x1="561.44" y1="673.11" x2="570.14" y2="673.11" stroke="#000" stroke-width="2.4"/>
<line x1="577.47" y1="634.4" x2="577.47" y2="657.7" stroke="#000" stroke-width="1.3"/>
<line x1="577.47" y1="696.6" x2="577.47" y2="702.6" stroke="#000" stroke-width="1.3"/>
<rect x="573.12" y="657.7" width="8.7" height="38.9" fill="#8fc19f" stroke="#000" stroke-width="1.35"/>
<line x1="573.12" y1="671.6" x2="581.82" y2="671.6" stroke="#000" stroke-width="2.4"/>
<line x1="589.15" y1="650" x2="589.15" y2="663.6" stroke="#000" stroke-width="1.3"/>
<line x1="589.15" y1="690.6" x2="589.15" y2="697.5" stroke="#000" stroke-width="1.3"/>
<rect x="584.8" y="663.6" width="8.7" height="27" fill="#8fc19f" stroke="#000" stroke-width="1.35"/>
<line x1="584.8" y1="689" x2="593.5" y2="689" stroke="#000" stroke-width="2.4"/>
<line x1="600.83" y1="639.9" x2="600.83" y2="651.6" stroke="#000" stroke-width="1.3"/>
<line x1="600.83" y1="672.4" x2="600.83" y2="693.2" stroke="#000" stroke-width="1.3"/>
<rect x="596.48" y="651.6" width="8.7" height="20.8" fill="#8fc19f" stroke="#000" stroke-width="1.35"/>
<line x1="596.48" y1="654.4" x2="605.18" y2="654.4" stroke="#000" stroke-width="2.4"/>
<line x1="647.55" y1="624" x2="647.55" y2="645.7" stroke="#000" stroke-width="1.3"/>
<line x1="647.55" y1="670.4" x2="647.55" y2="672" stroke="#000" stroke-width="1.3"/>
<rect x="643.2" y="645.7" width="8.7" height="24.7" fill="#8fc19f" stroke="#000" stroke-width="1.35"/>
<line x1="643.2" y1="656.6" x2="651.9" y2="656.6" stroke="#000" stroke-width="2.4"/>
<circle cx="647.55" cy="722.9" r="3.35" fill="#000" fill-opacity="0.5"/>
<line x1="659.23" y1="608.6" x2="659.23" y2="633.6" stroke="#000" stroke-width="1.3"/>
<line x1="659.23" y1="671.9" x2="659.23" y2="675.5" stroke="#000" stroke-width="1.3"/>
<rect x="654.88" y="633.6" width="8.7" height="38.3" fill="#8fc19f" stroke="#000" stroke-width="1.35"/>
<line x1="654.88" y1="667.1" x2="663.58" y2="667.1" stroke="#000" stroke-width="2.4"/>
<polygon points="402.27,687.5 408.11,686.94 413.95,686.36 419.79,685.78 425.63,685.19 431.47,684.6 437.31,683.99 443.15,683.37 448.99,682.74 454.83,682.1 460.67,681.44 466.51,680.77 472.35,680.09 478.19,679.39 484.03,678.67 489.87,677.94 495.71,677.19 501.55,676.43 507.39,675.64 513.23,674.85 519.07,674.03 524.91,673.2 530.75,672.36 536.59,671.5 542.43,670.63 548.27,669.74 554.11,668.85 559.95,667.94 565.79,667.03 571.63,666.1 577.47,665.17 583.31,664.22 589.15,663.28 594.99,662.32 600.83,661.36 606.67,660.39 612.51,659.42 618.35,658.44 624.19,657.46 630.03,656.48 635.87,655.49 641.71,654.49 647.55,653.5 653.39,652.5 659.23,651.5 659.23,670.5 653.39,671.01 647.55,671.53 641.71,672.05 635.87,672.57 630.03,673.09 624.19,673.62 618.35,674.15 612.51,674.69 606.67,675.23 600.83,675.78 594.99,676.33 589.15,676.89 583.31,677.45 577.47,678.02 571.63,678.6 565.79,679.19 559.95,679.79 554.11,680.4 548.27,681.01 542.43,681.64 536.59,682.29 530.75,682.94 524.91,683.61 519.07,684.3 513.23,685 507.39,685.71 501.55,686.44 495.71,687.19 489.87,687.96 484.03,688.74 478.19,689.53 472.35,690.35 466.51,691.18 460.67,692.02 454.83,692.88 448.99,693.75 443.15,694.63 437.31,695.53 431.47,696.43 425.63,697.35 419.79,698.28 413.95,699.21 408.11,700.15 402.27,701.1" fill="rgba(0,255,0,0.5)"/>
<polyline points="402.27,687.5 408.11,686.94 413.95,686.36 419.79,685.78 425.63,685.19 431.47,684.6 437.31,683.99 443.15,683.37 448.99,682.74 454.83,682.1 460.67,681.44 466.51,680.77 472.35,680.09 478.19,679.39 484.03,678.67 489.87,677.94 495.71,677.19 501.55,676.43 507.39,675.64 513.23,674.85 519.07,674.03 524.91,673.2 530.75,672.36 536.59,671.5 542.43,670.63 548.27,669.74 554.11,668.85 559.95,667.94 565.79,667.03 571.63,666.1 577.47,665.17 583.31,664.22 589.15,663.28 594.99,662.32 600.83,661.36 606.67,660.39 612.51,659.42 618.35,658.44 624.19,657.46 630.03,656.48 635.87,655.49 641.71,654.49 647.55,653.5 653.39,652.5 659.23,651.5" fill="none" stroke="#000" stroke-width="1.4" stroke-dasharray="5.7 5.7"/>
<polyline points="402.27,701.1 408.11,700.15 413.95,699.21 419.79,698.28 425.63,697.35 431.47,696.43 437.31,695.53 443.15,694.63 448.99,693.75 454.83,692.88 460.67,692.02 466.51,691.18 472.35,690.35 478.19,689.53 484.03,688.74 489.87,687.96 495.71,687.19 501.55,686.44 507.39,685.71 513.23,685 519.07,684.3 524.91,683.61 530.75,682.94 536.59,682.29 542.43,681.64 548.27,681.01 554.11,680.4 559.95,679.79 565.79,679.19 571.63,678.6 577.47,678.02 583.31,677.45 589.15,676.89 594.99,676.33 600.83,675.78 606.67,675.23 612.51,674.69 618.35,674.15 624.19,673.62 630.03,673.09 635.87,672.57 641.71,672.05 647.55,671.53 653.39,671.01 659.23,670.5" fill="none" stroke="#000" stroke-width="1.4" stroke-dasharray="5.7 5.7"/>
<line x1="402.27" y1="694.3" x2="659.23" y2="661" stroke="#000" stroke-width="3.5"/>
<rect x="377.2" y="578.4" width="307.25" height="179.9" fill="none" stroke="#000" stroke-width="1.25"/>
<text transform="translate(553.65,729.1) scale(1,1.02)" font-size="15.15">2.86 (kg N/ha/yr)</text>
<text transform="translate(558.55,751.3) scale(1,1.02)" font-size="15.15">2.18 (%/yr)</text>
</svg>
</body></html>
